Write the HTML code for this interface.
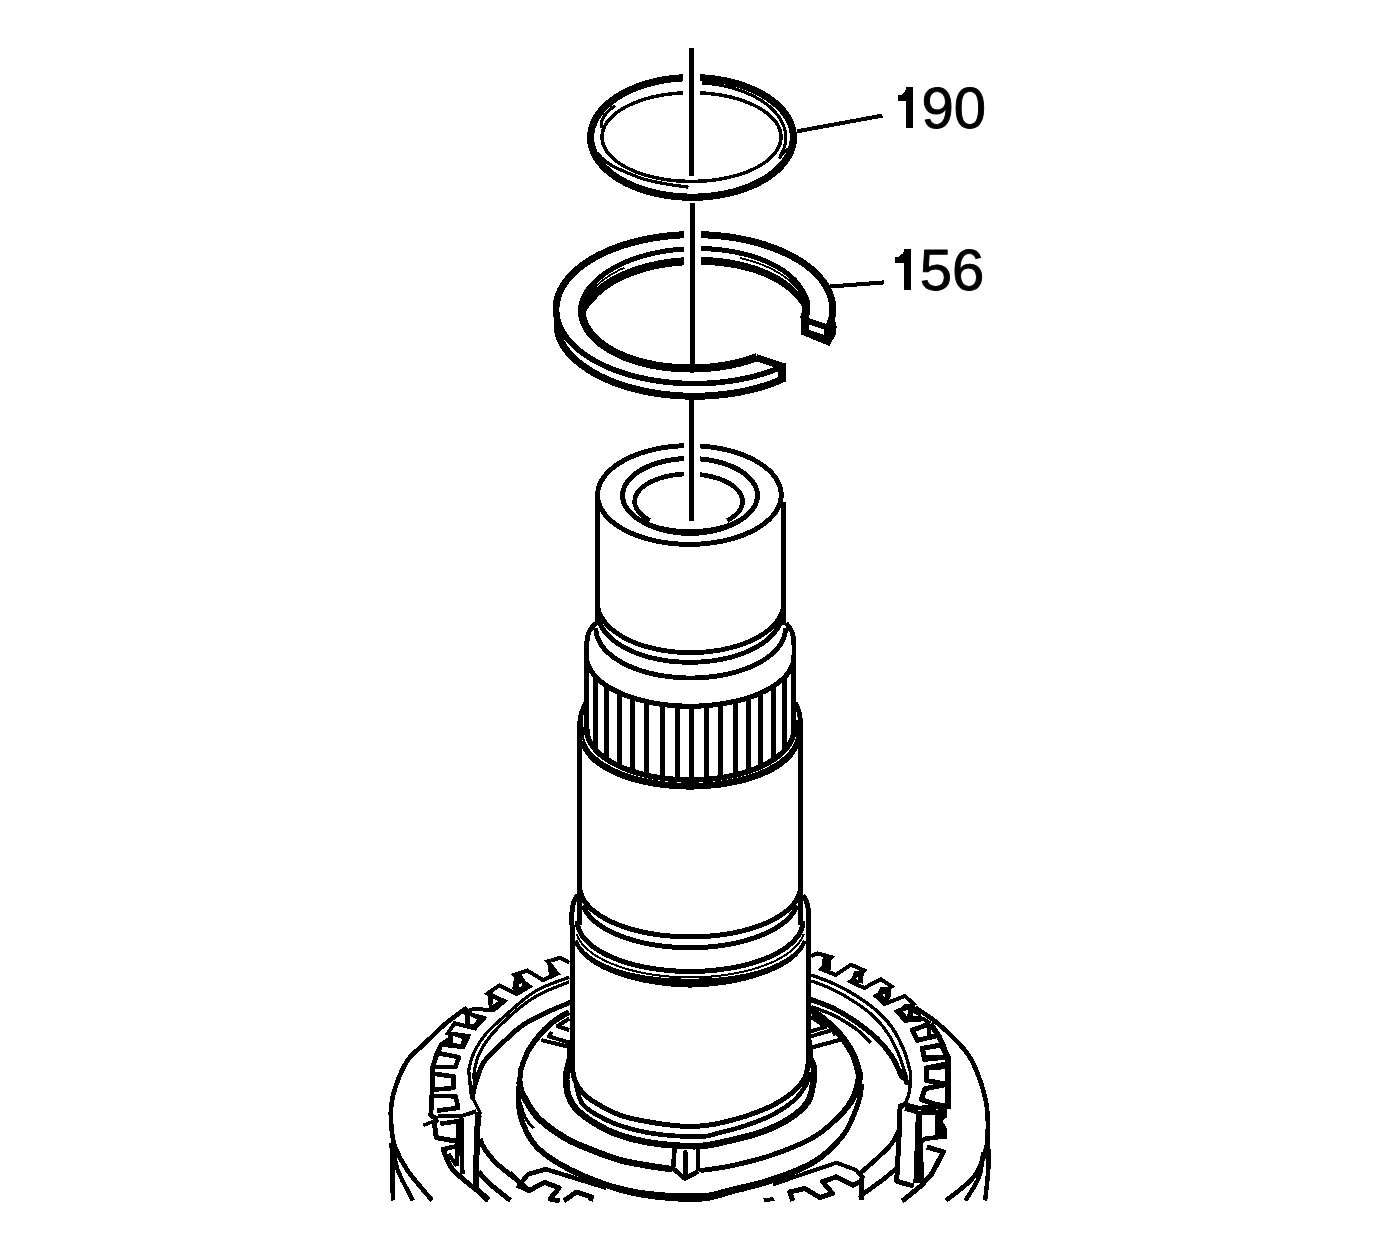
<!DOCTYPE html>
<html><head><meta charset="utf-8"><title>Diagram</title>
<style>
html,body{margin:0;padding:0;background:#fff;}
body{width:1375px;height:1239px;overflow:hidden;font-family:"Liberation Sans",sans-serif;}
svg{display:block;}
svg *{vector-effect:none}
.lbl{font-family:"Liberation Sans",sans-serif;font-size:58px;fill:#000;stroke:#000;stroke-width:0.9px;stroke-linejoin:round;}
</style></head><body>
<svg width="1375" height="1239" viewBox="0 0 1375 1239" fill="none" stroke="#000" stroke-linecap="butt" stroke-linejoin="miter" shape-rendering="crispEdges">
<rect x="0" y="0" width="1375" height="1239" fill="#fff" stroke="none"/>
<path d="M700.0,77.8 L705.1,78.1 L710.2,78.6 L715.3,79.2 L720.3,80.0 L725.2,80.9 L730.1,82.0 L734.8,83.2 L739.4,84.5 L743.9,86.0 L748.3,87.7 L752.5,89.4 L756.6,91.3 L760.5,93.3 L764.2,95.4 L767.7,97.6 L771.1,100.0 L774.2,102.4 L777.1,104.9 L779.8,107.5 L782.3,110.2 L784.5,112.9 L786.5,115.7 L788.3,118.6 L789.8,121.5 L791.0,124.5 L792.0,127.5 L792.7,130.5 L793.2,133.5 L793.4,136.6 L793.3,139.6 L793.0,142.7 L792.4,145.7 L791.6,148.7 L790.5,151.7 L789.1,154.6 L787.5,157.5 L785.6,160.3 L783.5,163.1 L781.2,165.8 L778.6,168.5 L775.8,171.0 L772.8,173.5 L769.6,175.9 L766.2,178.2 L762.5,180.4 L758.7,182.4 L754.8,184.4 L750.6,186.2 L746.3,187.9 L741.9,189.5 L737.3,190.9 L732.7,192.2 L727.9,193.3 L723.0,194.3 L718.0,195.2 L713.0,195.9 L707.9,196.5 L702.8,196.9 L697.7,197.1 L692.5,197.2 L687.3,197.1 L682.2,196.9 L677.1,196.5 L672.0,196.0 L666.9,195.3 L662.0,194.5 L657.1,193.5 L652.3,192.4 L647.6,191.2 L643.0,189.7 L638.5,188.2 L634.2,186.5 L630.0,184.7 L626.0,182.8 L622.2,180.8 L618.5,178.6 L615.1,176.4 L611.8,174.0 L608.7,171.5 L605.9,169.0 L603.3,166.4 L600.9,163.7 L598.7,160.9 L596.8,158.1 L595.2,155.2 L593.8,152.2 L592.6,149.3 L591.7,146.3 L591.1,143.2 L590.7,140.2 L590.6,137.2 L590.8,134.1 L591.2,131.1 L591.8,128.1 L592.8,125.1 L594.0,122.1 L595.4,119.2 L597.1,116.3 L599.1,113.5 L601.3,110.7 L603.7,108.0 L606.3,105.4 L609.2,102.9 L612.3,100.4 L615.6,98.1 L619.1,95.8 L622.8,93.7 L626.6,91.7 L630.7,89.8 L634.9,88.0 L639.2,86.3 L643.7,84.8 L648.3,83.4 L653.0,82.2 L657.8,81.1 L662.7,80.1 L667.7,79.3 L672.8,78.7 L677.9,78.2 L683.0,77.8" stroke-width="7.2" />
<path d="M700.0,92.8 L704.5,93.1 L709.0,93.5 L713.4,94.0 L717.8,94.6 L722.1,95.3 L726.3,96.1 L730.5,97.0 L734.5,98.1 L738.4,99.2 L742.2,100.4 L745.9,101.8 L749.5,103.2 L752.8,104.7 L756.1,106.3 L759.1,107.9 L762.0,109.7 L764.7,111.5 L767.2,113.3 L769.6,115.3 L771.7,117.3 L773.6,119.3 L775.3,121.4 L776.8,123.5 L778.1,125.7 L779.1,127.9 L779.9,130.1 L780.5,132.4 L780.9,134.6 L781.0,136.9 L780.9,139.1 L780.6,141.4 L780.0,143.6 L779.2,145.8 L778.2,148.0 L777.0,150.2 L775.5,152.3 L773.8,154.4 L771.9,156.5 L769.8,158.5 L767.6,160.4 L765.1,162.3 L762.4,164.1 L759.5,165.9 L756.5,167.5 L753.3,169.1 L749.9,170.6 L746.4,172.1 L742.7,173.4 L738.9,174.7 L735.0,175.8 L731.0,176.8 L726.9,177.8 L722.6,178.6 L718.3,179.4 L714.0,180.0 L709.6,180.5 L705.1,180.9 L700.6,181.2 L696.0,181.3 L691.5,181.4 L687.0,181.3 L682.4,181.2 L677.9,180.9 L673.4,180.5 L669.0,180.0 L664.7,179.4 L660.4,178.6 L656.1,177.8 L652.0,176.8 L648.0,175.8 L644.1,174.7 L640.3,173.4 L636.6,172.1 L633.1,170.6 L629.7,169.1 L626.5,167.5 L623.5,165.9 L620.6,164.1 L617.9,162.3 L615.4,160.4 L613.2,158.5 L611.1,156.5 L609.2,154.4 L607.5,152.3 L606.0,150.2 L604.8,148.0 L603.8,145.8 L603.0,143.6 L602.4,141.4 L602.1,139.1 L602.0,136.9 L602.1,134.6 L602.5,132.4 L603.1,130.1 L603.9,127.9 L604.9,125.7 L606.2,123.5 L607.7,121.4 L609.4,119.3 L611.3,117.3 L613.4,115.3 L615.8,113.3 L618.3,111.5 L621.0,109.7 L623.9,107.9 L626.9,106.3 L630.2,104.7 L633.5,103.2 L637.1,101.8 L640.8,100.4 L644.6,99.2 L648.5,98.1 L652.5,97.0 L656.7,96.1 L660.9,95.3 L665.2,94.6 L669.6,94.0 L674.0,93.5 L678.5,93.1 L683.0,92.8" stroke-width="3.5" />
<path d="M701.8,83.0 L706.0,83.3 L710.2,83.7 L714.4,84.3 L718.5,84.9 L722.5,85.7 L726.5,86.5 L730.5,87.5 L734.3,88.6 L738.0,89.8 L741.7,91.0 L745.3,92.4 L748.7,93.9 L752.0,95.4 L755.2,97.0 L758.3,98.8 L761.3,100.5 L764.1,102.4 L766.7,104.4 L769.2,106.4 L771.5,108.5 L773.7,110.6 L775.7,112.8 L777.6,115.0 L779.2,117.3 L780.7,119.7 L782.0,122.0 L783.1,124.4 L784.0,126.9 L784.7,129.3 L785.3,131.8 L785.6,134.3 L785.8,136.7 L785.8,139.2 L785.5,141.7 L785.1,144.2 L784.5,146.6 L783.7,149.1 L782.7,151.5 L781.5,153.9 L780.1,156.2" stroke-width="3.1" />
<path d="M597.0,153.2 C598.2,154.3 601.2,157.8 604.0,160.0 C606.8,162.2 607.8,163.6 613.9,166.6 C620.0,169.6 632.0,175.1 640.5,178.0 C649.0,180.9 657.0,182.3 665.0,183.8 C673.0,185.3 684.5,186.6 688.4,187.2" stroke-width="3.2" />
<path d="M601.2,128.0 C601.3,126.8 600.8,123.1 601.8,120.5 C602.8,117.9 604.8,115.0 607.0,112.5 C609.2,110.0 613.8,106.6 615.1,105.4" stroke-width="3.1" />
<line x1="779" y1="158.5" x2="787.5" y2="148.5" stroke-width="2.6" />
<line x1="691.5" y1="48" x2="691.5" y2="175.6" stroke-width="4.8" />
<line x1="692.3" y1="203.1" x2="692.3" y2="364" stroke-width="4.9" />
<line x1="691.5" y1="400" x2="691.5" y2="520.5" stroke-width="4.8" />
<line x1="797" y1="131.3" x2="882.4" y2="115.6" stroke-width="4" />
<path d="M897.5,95.2 L900.8,95.2 L905.0,91.3 L906.6,86.9 L913.2,86.9 L913.2,128.2 L905.9,128.2 L905.9,100.9 L897.5,100.9 Z" fill="#000" stroke="none"/>
<text class="lbl" x="921.6" y="127.7">90</text>
<line x1="829.3" y1="286.6" x2="883.8" y2="282.4" stroke-width="4" />
<path d="M895.4,257.1 L898.7,257.1 L902.9,253.2 L904.5,248.8 L911.1,248.8 L911.1,290.1 L903.8,290.1 L903.8,262.8 L895.4,262.8 Z" fill="#000" stroke="none"/>
<text class="lbl" x="919.8" y="289.6">56</text>
<path d="M783.0,363.3 L779.6,364.8 L776.3,366.2 L772.8,367.5 L769.3,368.8 L765.6,370.0 L761.9,371.2 L758.2,372.3 L754.4,373.4 L750.5,374.3 L746.5,375.2 L742.5,376.1 L738.5,376.9 L734.4,377.6 L730.3,378.2 L726.1,378.8 L721.9,379.3 L717.7,379.7 L713.4,380.1 L709.2,380.4 L704.9,380.6 L700.6,380.7 L696.3,380.8 L692.0,380.8 L687.7,380.7 L683.4,380.6 L679.1,380.3 L674.9,380.0 L670.6,379.7 L666.4,379.2 L662.2,378.7 L658.1,378.2 L653.9,377.5 L649.8,376.8 L645.8,376.0 L641.8,375.1 L637.9,374.2 L634.0,373.2 L630.2,372.2 L626.4,371.1 L622.8,369.9 L619.1,368.7 L615.6,367.4 L612.2,366.0 L608.8,364.6 L605.5,363.1 L602.3,361.6 L599.2,360.0 L596.2,358.4 L593.3,356.7 L590.5,355.0 L587.8,353.3 L585.2,351.5 L582.7,349.6 L580.4,347.7 L578.1,345.8 L576.0,343.9 L574.0,341.9 L572.1,339.8 L570.4,337.8 L568.8,335.7 L567.3,333.6 L565.9,331.5 L564.7,329.4 L563.6,327.2 L562.6,325.1 L561.8,322.9 L561.1,320.8 L560.5,318.6 L560.0,316.5 L559.7,314.3 L559.5,312.2 L559.4,310.0 L559.4,307.9 L559.6,305.8 L559.9,303.6 L560.3,301.5 L560.8,299.4 L561.4,297.2 L562.2,295.1 L563.1,293.0 L564.1,290.9 L565.2,288.8 L566.5,286.7 L567.9,284.7 L569.4,282.6 L571.0,280.6 L572.8,278.6 L574.7,276.6 L576.7,274.6 L578.8,272.7 L581.1,270.8 L583.4,268.9 L585.9,267.1 L588.5,265.3 L591.2,263.6 L594.0,261.9 L596.9,260.2 L599.9,258.6 L603.0,257.1 L606.2,255.5 L609.4,254.1 L612.8,252.7 L616.3,251.3 L619.8,250.1 L623.4,248.8 L627.1,247.7 L630.8,246.6 L634.6,245.5 L638.5,244.5 L642.4,243.6 L646.4,242.8 L650.4,242.0 L654.5,241.3 L658.6,240.7 L662.8,240.1 L667.0,239.6 L671.2,239.2 L675.4,238.8 L679.7,238.5 L684.0,238.3 L683.6,231.3 L679.3,231.5 L674.9,231.8 L670.5,232.2 L666.2,232.6 L661.9,233.2 L657.6,233.7 L653.4,234.4 L649.2,235.1 L645.0,235.9 L640.9,236.8 L636.9,237.7 L632.9,238.8 L628.9,239.8 L625.0,241.0 L621.2,242.2 L617.5,243.5 L613.8,244.8 L610.2,246.2 L606.7,247.7 L603.3,249.2 L599.9,250.8 L596.7,252.4 L593.5,254.1 L590.4,255.8 L587.5,257.6 L584.6,259.5 L581.8,261.4 L579.2,263.4 L576.7,265.4 L574.2,267.4 L571.9,269.5 L569.7,271.7 L567.6,273.8 L565.7,276.1 L563.9,278.3 L562.2,280.6 L560.6,283.0 L559.2,285.3 L557.9,287.7 L556.7,290.1 L555.7,292.6 L554.8,295.1 L554.0,297.6 L553.4,300.1 L553.0,302.6 L552.7,305.1 L552.6,307.7 L552.6,310.2 L552.8,312.8 L553.1,315.3 L553.6,317.8 L554.2,320.3 L555.0,322.8 L555.9,325.2 L556.9,327.6 L558.1,330.0 L559.4,332.4 L560.8,334.7 L562.4,337.0 L564.1,339.3 L565.9,341.5 L567.9,343.7 L569.9,345.8 L572.1,347.9 L574.4,350.0 L576.8,352.1 L579.3,354.0 L581.9,356.0 L584.7,357.9 L587.5,359.7 L590.4,361.5 L593.5,363.3 L596.6,365.0 L599.8,366.6 L603.2,368.2 L606.6,369.7 L610.1,371.2 L613.6,372.6 L617.3,373.9 L621.0,375.2 L624.8,376.4 L628.6,377.6 L632.6,378.7 L636.6,379.7 L640.6,380.6 L644.7,381.5 L648.8,382.3 L653.0,383.0 L657.2,383.7 L661.5,384.3 L665.8,384.8 L670.1,385.3 L674.4,385.6 L678.8,385.9 L683.2,386.2 L687.6,386.3 L692.0,386.4 L696.4,386.4 L700.7,386.3 L705.1,386.2 L709.5,386.0 L713.9,385.7 L718.2,385.3 L722.5,384.9 L726.8,384.3 L731.1,383.8 L735.3,383.1 L739.5,382.4 L743.6,381.6 L747.7,380.7 L751.8,379.8 L755.8,378.8 L759.7,377.7 L763.6,376.6 L767.4,375.3 L771.1,374.1 L774.8,372.7 L778.4,371.4 L781.9,369.9 L785.2,368.4 Z" fill="#000" stroke="none"/>
<path d="M700.9,238.2 L705.2,238.3 L709.5,238.6 L713.8,238.8 L718.1,239.2 L722.4,239.7 L726.6,240.2 L730.8,240.8 L734.9,241.4 L739.0,242.1 L743.1,242.9 L747.1,243.8 L751.1,244.7 L755.0,245.7 L758.8,246.8 L762.6,247.9 L766.3,249.1 L769.9,250.4 L773.4,251.7 L776.9,253.1 L780.3,254.5 L783.5,256.0 L786.7,257.5 L789.8,259.1 L792.8,260.7 L795.7,262.4 L798.5,264.1 L801.2,265.9 L803.8,267.7 L806.2,269.6 L808.6,271.5 L810.8,273.4 L812.9,275.4 L814.9,277.4 L816.7,279.4 L818.5,281.4 L820.1,283.5 L821.5,285.6 L822.9,287.7 L824.1,289.8 L825.2,291.9 L826.2,294.0 L827.0,296.2 L827.7,298.3 L828.3,300.5 L828.7,302.6 L829.0,304.8 L829.2,306.9 L829.3,309.1 L829.2,311.2 L829.0,313.4 L828.7,315.5 L828.3,317.7 L827.7,319.8 L827.0,322.0 L826.2,324.2 L832.7,326.7 L833.6,324.3 L834.4,321.8 L835.1,319.3 L835.6,316.8 L836.0,314.2 L836.2,311.6 L836.3,309.1 L836.2,306.5 L836.0,303.9 L835.6,301.4 L835.1,298.8 L834.4,296.3 L833.6,293.8 L832.6,291.3 L831.5,288.8 L830.3,286.4 L828.9,284.0 L827.3,281.6 L825.7,279.3 L823.9,277.0 L822.0,274.7 L819.9,272.5 L817.8,270.3 L815.5,268.2 L813.1,266.1 L810.5,264.1 L807.9,262.1 L805.2,260.1 L802.3,258.3 L799.3,256.4 L796.3,254.6 L793.1,252.9 L789.9,251.2 L786.5,249.6 L783.1,248.1 L779.5,246.6 L775.9,245.1 L772.2,243.8 L768.5,242.5 L764.6,241.2 L760.7,240.1 L756.8,239.0 L752.7,237.9 L748.6,237.0 L744.5,236.1 L740.3,235.3 L736.1,234.5 L731.8,233.8 L727.5,233.2 L723.1,232.7 L718.8,232.2 L714.4,231.9 L710.0,231.6 L705.5,231.3 L701.1,231.2 Z" fill="#000" stroke="none"/>
<path d="M782.7,375.2 L779.4,376.7 L776.0,378.1 L772.5,379.5 L769.0,380.7 L765.4,382.0 L761.7,383.1 L758.0,384.2 L754.1,385.3 L750.3,386.3 L746.3,387.2 L742.3,388.0 L738.3,388.8 L734.2,389.5 L730.1,390.1 L725.9,390.7 L721.7,391.2 L717.5,391.6 L713.3,392.0 L709.0,392.3 L704.7,392.5 L700.5,392.6 L696.2,392.7 L691.9,392.7 L687.6,392.6 L683.3,392.5 L679.0,392.2 L674.8,391.9 L670.5,391.6 L666.3,391.1 L662.1,390.6 L658.0,390.0 L653.9,389.4 L649.8,388.7 L645.8,387.9 L641.8,387.0 L637.8,386.1 L634.0,385.1 L630.2,384.1 L626.4,382.9 L622.8,381.8 L619.2,380.5 L615.6,379.2 L612.2,377.9 L608.8,376.5 L605.6,375.0 L602.4,373.5 L599.3,371.9 L596.3,370.3 L593.5,368.6 L590.7,366.9 L588.0,365.1 L585.4,363.3 L583.0,361.5 L580.6,359.6 L578.4,357.7 L576.3,355.8 L574.3,353.8 L572.4,351.8 L570.7,349.8 L569.1,347.8 L567.6,345.7 L566.2,343.6 L565.0,341.6 L563.9,339.5 L562.7,337.4 L561.7,335.3 L560.9,333.2 L560.1,331.1 L559.5,329.0 L559.0,326.8 L558.6,324.6 L558.3,322.4 L558.2,320.2 L558.2,317.9 L554.2,317.7 L553.9,320.1 L553.7,322.5 L553.7,325.0 L553.8,327.5 L554.1,330.0 L554.5,332.5 L555.0,335.1 L555.7,337.6 L556.6,340.1 L557.6,342.6 L558.9,345.0 L560.3,347.4 L561.8,349.7 L563.5,352.0 L565.3,354.3 L567.2,356.5 L569.3,358.7 L571.5,360.9 L573.8,363.0 L576.2,365.0 L578.7,367.0 L581.3,369.0 L584.1,370.9 L586.9,372.8 L589.9,374.6 L592.9,376.4 L596.1,378.1 L599.3,379.7 L602.6,381.3 L606.1,382.9 L609.6,384.3 L613.2,385.8 L616.8,387.1 L620.6,388.4 L624.4,389.6 L628.2,390.8 L632.2,391.9 L636.2,392.9 L640.2,393.8 L644.3,394.7 L648.5,395.5 L652.7,396.3 L656.9,397.0 L661.2,397.6 L665.5,398.1 L669.9,398.5 L674.2,398.9 L678.6,399.2 L683.0,399.4 L687.4,399.6 L691.8,399.7 L696.2,399.7 L700.6,399.6 L705.0,399.5 L709.4,399.3 L713.8,399.0 L718.2,398.6 L722.5,398.2 L726.8,397.7 L731.1,397.1 L735.4,396.4 L739.6,395.7 L743.7,394.9 L747.8,394.0 L751.9,393.1 L755.9,392.1 L759.9,391.0 L763.8,389.8 L767.6,388.6 L771.3,387.3 L775.0,386.0 L778.6,384.6 L782.1,383.1 L785.5,381.6 Z" fill="#000" stroke="none"/>
<path d="M830.5,316.7 L830.4,319.1 L830.2,321.5 L829.8,323.8 L829.3,326.0 L828.7,328.3 L828.2,330.5 L827.6,332.8 L826.8,335.0 L825.9,337.3 L824.9,339.5 L823.7,341.8 L829.8,345.1 L831.2,342.7 L832.4,340.1 L833.4,337.5 L834.3,334.8 L835.0,332.2 L835.6,329.5 L835.8,326.8 L835.7,324.1 L835.4,321.4 L835.0,318.8 L834.5,316.3 Z" fill="#000" stroke="none"/>
<path d="M755.6,353.2 L752.7,354.3 L749.8,355.3 L746.8,356.3 L743.8,357.2 L740.7,358.0 L737.5,358.8 L734.3,359.6 L731.1,360.3 L727.8,361.0 L724.5,361.5 L721.2,362.1 L717.8,362.6 L714.5,363.0 L711.0,363.4 L707.6,363.7 L704.2,363.9 L700.7,364.1 L697.3,364.3 L693.8,364.4 L690.4,364.4 L686.9,364.4 L683.4,364.3 L680.0,364.1 L676.6,363.9 L673.2,363.7 L669.8,363.3 L666.4,363.0 L663.1,362.5 L659.8,362.0 L656.5,361.5 L653.3,360.9 L650.1,360.2 L647.0,359.5 L643.9,358.8 L640.9,358.0 L637.9,357.1 L635.0,356.2 L632.1,355.2 L629.3,354.2 L626.6,353.2 L623.9,352.1 L621.3,350.9 L618.8,349.8 L616.4,348.5 L614.0,347.3 L611.7,346.0 L609.5,344.6 L607.4,343.3 L605.4,341.9 L603.5,340.4 L601.7,339.0 L600.0,337.5 L598.3,336.0 L596.8,334.5 L595.3,332.9 L594.0,331.4 L592.8,329.8 L591.6,328.2 L590.6,326.6 L589.7,325.0 L588.8,323.3 L588.1,321.7 L587.5,320.1 L586.9,318.4 L586.5,316.8 L586.1,315.1 L585.9,313.5 L585.8,311.8 L585.7,310.2 L585.7,308.5 L585.8,306.9 L585.9,305.2 L586.2,303.5 L586.6,301.8 L587.1,300.1 L587.7,298.4 L588.4,296.7 L589.2,294.9 L590.1,293.2 L591.1,291.5 L592.2,289.8 L593.4,288.1 L594.8,286.4 L596.2,284.7 L597.7,283.0 L599.4,281.4 L601.1,279.8 L603.0,278.2 L604.9,276.6 L607.0,275.1 L609.1,273.7 L611.4,272.3 L613.7,270.9 L616.1,269.5 L618.6,268.2 L621.2,266.9 L623.8,265.7 L626.5,264.5 L629.3,263.3 L632.1,262.2 L635.0,261.2 L638.0,260.1 L641.0,259.2 L644.1,258.3 L647.2,257.4 L650.4,256.6 L653.6,255.8 L656.9,255.1 L660.2,254.5 L663.5,253.9 L666.9,253.4 L670.2,252.9 L673.7,252.4 L677.1,252.1 L680.5,251.8 L684.0,251.5 L683.7,246.5 L680.1,246.8 L676.6,247.1 L673.1,247.5 L669.6,247.9 L666.1,248.4 L662.7,249.0 L659.2,249.6 L655.9,250.2 L652.5,251.0 L649.2,251.7 L645.9,252.6 L642.7,253.5 L639.5,254.4 L636.4,255.4 L633.4,256.4 L630.4,257.5 L627.4,258.7 L624.5,259.9 L621.7,261.1 L619.0,262.4 L616.3,263.7 L613.7,265.1 L611.2,266.5 L608.8,268.0 L606.4,269.5 L604.1,271.0 L601.9,272.6 L599.8,274.2 L597.8,275.8 L595.8,277.5 L593.9,279.2 L592.2,280.9 L590.5,282.6 L588.9,284.4 L587.4,286.2 L586.0,288.1 L584.7,289.9 L583.5,291.9 L582.5,293.8 L581.5,295.8 L580.6,297.8 L579.9,299.8 L579.3,301.8 L578.8,303.9 L578.4,306.0 L578.1,308.1 L578.0,310.2 L578.0,312.3 L578.1,314.4 L578.4,316.5 L578.9,318.6 L579.4,320.6 L580.1,322.7 L580.8,324.7 L581.7,326.7 L582.8,328.7 L583.9,330.7 L585.1,332.6 L586.5,334.5 L587.9,336.3 L589.5,338.2 L591.1,339.9 L592.9,341.7 L594.7,343.4 L596.6,345.1 L598.7,346.7 L600.8,348.3 L603.0,349.8 L605.3,351.3 L607.7,352.8 L610.2,354.2 L612.7,355.6 L615.3,356.9 L618.0,358.2 L620.8,359.4 L623.6,360.6 L626.5,361.7 L629.5,362.8 L632.5,363.8 L635.6,364.8 L638.7,365.7 L641.9,366.5 L645.2,367.3 L648.4,368.1 L651.8,368.8 L655.1,369.4 L658.6,370.0 L662.0,370.5 L665.5,370.9 L669.0,371.3 L672.5,371.7 L676.0,372.0 L679.6,372.2 L683.2,372.3 L686.7,372.4 L690.3,372.5 L693.9,372.5 L697.5,372.4 L701.1,372.2 L704.7,372.0 L708.3,371.8 L711.8,371.4 L715.4,371.1 L718.9,370.6 L722.4,370.1 L725.9,369.6 L729.3,369.0 L732.8,368.3 L736.1,367.6 L739.5,366.8 L742.8,365.9 L746.0,365.0 L749.2,364.1 L752.4,363.1 L755.5,362.0 L758.4,360.9 Z" fill="#000" stroke="none"/>
<path d="M701.0,251.1 L704.5,251.2 L708.0,251.3 L711.5,251.5 L715.0,251.8 L718.4,252.1 L721.8,252.5 L725.2,253.0 L728.6,253.5 L731.9,254.0 L735.2,254.6 L738.5,255.3 L741.7,256.0 L744.8,256.8 L747.9,257.6 L750.9,258.5 L753.9,259.5 L756.8,260.4 L759.7,261.5 L762.5,262.6 L765.2,263.7 L767.8,264.9 L770.4,266.1 L772.9,267.3 L775.3,268.7 L777.6,270.0 L779.8,271.4 L782.0,272.8 L784.0,274.2 L786.0,275.7 L787.8,277.2 L789.6,278.8 L791.3,280.3 L792.8,281.9 L794.3,283.6 L795.7,285.2 L796.9,286.8 L798.1,288.5 L799.1,290.2 L799.9,292.0 L800.5,293.8 L801.1,295.6 L801.5,297.3 L801.8,299.1 L802.1,300.8 L802.2,302.5 L802.3,304.2 L802.3,305.8 L802.3,307.5 L802.2,309.2 L802.0,310.8 L801.6,312.5 L801.2,314.1 L800.7,315.8 L800.1,317.6 L808.0,320.4 L808.6,318.4 L809.3,316.3 L809.7,314.2 L810.1,312.0 L810.3,309.9 L810.4,307.7 L810.4,305.6 L810.2,303.4 L809.9,301.3 L809.3,299.3 L808.6,297.2 L807.8,295.2 L806.9,293.3 L805.9,291.3 L804.7,289.5 L803.5,287.6 L802.3,285.8 L801.0,283.9 L799.6,282.1 L798.1,280.3 L796.5,278.5 L794.8,276.8 L793.0,275.1 L791.1,273.4 L789.1,271.8 L787.0,270.2 L784.8,268.7 L782.5,267.2 L780.2,265.7 L777.7,264.3 L775.2,262.9 L772.6,261.6 L769.9,260.3 L767.2,259.1 L764.3,257.9 L761.4,256.8 L758.5,255.7 L755.5,254.7 L752.4,253.7 L749.2,252.8 L746.0,252.0 L742.8,251.2 L739.5,250.4 L736.2,249.7 L732.8,249.1 L729.4,248.5 L725.9,248.0 L722.4,247.6 L718.9,247.2 L715.4,246.8 L711.8,246.5 L708.3,246.3 L704.7,246.2 L701.1,246.1 Z" fill="#000" stroke="none"/>
<path d="M583.8,317.4 L584.4,315.6 L585.1,313.9 L585.9,312.2 L586.8,310.5 L587.7,308.9 L588.8,307.3 L590.0,305.7 L591.3,304.2 L592.6,302.6 L594.1,301.1 L595.5,299.6 L597.0,298.0 L598.5,296.4 L600.2,294.8 L601.9,293.3 L603.7,291.8 L605.7,290.3 L607.7,288.8 L609.8,287.3 L612.0,285.9 L614.3,284.5 L616.7,283.2 L619.1,281.9 L621.7,280.6 L624.3,279.4 L626.9,278.2 L629.7,277.1 L632.5,276.0 L635.4,274.9 L638.3,273.9 L641.3,273.0 L644.4,272.0 L647.5,271.2 L650.6,270.4 L653.8,269.6 L657.1,268.9 L660.4,268.3 L663.7,267.7 L667.0,267.1 L670.4,266.7 L673.8,266.2 L677.2,265.9 L680.7,265.6 L684.1,265.3 L683.6,257.3 L680.0,257.6 L676.4,257.9 L672.9,258.3 L669.3,258.7 L665.8,259.2 L662.3,259.8 L658.9,260.4 L655.5,261.1 L652.1,261.8 L648.7,262.6 L645.4,263.5 L642.2,264.4 L639.0,265.3 L635.8,266.3 L632.7,267.4 L629.7,268.5 L626.7,269.7 L623.8,270.9 L620.9,272.1 L618.2,273.4 L615.5,274.8 L612.8,276.2 L610.3,277.6 L607.8,279.1 L605.4,280.7 L603.1,282.2 L600.9,283.9 L598.7,285.5 L596.7,287.2 L594.7,288.9 L592.9,290.7 L591.1,292.5 L589.5,294.3 L588.0,296.3 L586.7,298.3 L585.6,300.4 L584.6,302.4 L583.7,304.5 L582.9,306.6 L582.2,308.6 L581.7,310.7 L581.3,312.8 L581.0,314.8 L580.8,316.8 Z" fill="#000" stroke="none"/>
<path d="M700.9,264.8 L704.5,264.9 L707.9,265.0 L711.4,265.2 L714.8,265.5 L718.3,265.8 L721.6,266.1 L725.0,266.6 L728.4,267.0 L731.7,267.6 L734.9,268.2 L738.1,268.8 L741.3,269.5 L744.4,270.3 L747.5,271.1 L750.5,271.9 L753.5,272.8 L756.4,273.8 L759.2,274.8 L762.0,275.8 L764.7,276.9 L767.3,278.1 L769.9,279.3 L772.3,280.5 L774.7,281.8 L777.0,283.1 L779.2,284.4 L781.4,285.8 L783.4,287.2 L785.4,288.7 L787.2,290.1 L789.0,291.6 L790.6,293.2 L792.2,294.7 L793.7,296.2 L795.2,297.7 L796.6,299.2 L797.9,300.8 L799.2,302.4 L800.3,304.0 L801.3,305.6 L802.2,307.3 L803.1,309.0 L803.7,310.7 L804.2,312.5 L804.5,314.4 L807.5,313.8 L807.1,311.9 L806.6,309.9 L806.2,307.9 L805.7,305.9 L805.0,303.9 L804.2,301.9 L803.3,299.9 L802.3,297.9 L801.2,295.9 L799.9,294.0 L798.5,292.0 L797.0,290.2 L795.3,288.4 L793.5,286.7 L791.5,285.0 L789.5,283.3 L787.4,281.7 L785.2,280.1 L782.9,278.6 L780.6,277.1 L778.1,275.7 L775.6,274.3 L773.0,272.9 L770.3,271.6 L767.5,270.4 L764.7,269.2 L761.8,268.0 L758.8,266.9 L755.8,265.9 L752.7,264.9 L749.5,263.9 L746.3,263.1 L743.0,262.2 L739.7,261.5 L736.4,260.8 L733.0,260.1 L729.5,259.5 L726.1,259.0 L722.6,258.5 L719.0,258.1 L715.5,257.7 L711.9,257.4 L708.3,257.2 L704.7,257.0 L701.1,256.9 Z" fill="#000" stroke="none"/>
<path d="M739.9,258.9 L743.1,259.7 L746.3,260.5 L749.4,261.4 L752.5,262.3 L755.5,263.3 L758.4,264.3 L761.3,265.4 L764.1,266.5 L766.8,267.7 L769.4,268.9 L772.0,270.2 L774.5,271.5 L776.9,272.8 L779.2,274.2 L781.4,275.7 L783.6,277.2 L785.6,278.7 L787.6,280.2 L789.5,281.8 L791.2,283.4 L792.9,285.0 L794.4,286.7 L795.9,288.4 L797.2,290.1 L798.5,291.8 L799.6,293.6 L800.7,295.4 L801.6,297.2 L802.4,299.0 L803.1,300.8 L804.8,300.2 L804.0,298.3 L803.2,296.4 L802.2,294.5 L801.2,292.7 L800.0,290.8 L798.7,289.0 L797.3,287.3 L795.8,285.5 L794.2,283.8 L792.5,282.1 L790.6,280.4 L788.7,278.8 L786.7,277.2 L784.6,275.7 L782.4,274.2 L780.2,272.7 L777.8,271.3 L775.3,269.9 L772.8,268.6 L770.2,267.3 L767.5,266.0 L764.7,264.9 L761.9,263.7 L759.0,262.6 L756.0,261.6 L753.0,260.6 L749.9,259.7 L746.8,258.8 L743.6,257.9 L740.3,257.2 Z" fill="#000" stroke="none"/>
<path d="M584.6,305.8 L585.3,303.9 L586.0,302.1 L586.8,300.3 L587.8,298.4 L588.8,296.6 L590.0,294.9 L591.2,293.1 L592.6,291.3 L594.1,289.6 L595.7,287.9 L597.3,286.2 L599.1,284.6 L601.0,282.9 L602.9,281.3 L605.0,279.8 L607.2,278.2 L609.4,276.7 L611.7,275.3 L614.1,273.9 L616.6,272.5 L619.2,271.1 L621.9,269.8 L624.6,268.6 L623.8,267.0 L621.1,268.2 L618.4,269.5 L615.8,270.9 L613.2,272.3 L610.8,273.7 L608.4,275.2 L606.1,276.8 L603.9,278.3 L601.8,279.9 L599.8,281.6 L597.9,283.2 L596.1,284.9 L594.4,286.7 L592.7,288.4 L591.2,290.2 L589.8,292.0 L588.5,293.8 L587.3,295.7 L586.2,297.6 L585.2,299.5 L584.3,301.4 L583.6,303.3 L582.9,305.2 Z" fill="#000" stroke="none"/>
<path d="M800.8,316.3 L808.9,318.2 L827.3,324.3 L836.8,325.8 L835.7,334.3 L829.6,346.1 L800.8,334.3 Z" fill="#000" stroke="none"/>
<path d="M809.3,324.6 L824.2,329.5 L824.2,335.0 L809.3,329.8 Z" fill="#fff" stroke="none"/>
<line x1="756" y1="357.6" x2="785" y2="367" stroke-width="7" />
<line x1="782" y1="365" x2="782" y2="382" stroke-width="7.6" />
<path d="M687.8,541.9 L685.0,541.8 L682.1,541.7 L679.3,541.6 L676.4,541.4 L673.6,541.2 L670.8,540.9 L668.0,540.5 L665.3,540.1 L662.5,539.7 L659.8,539.2 L657.1,538.7 L654.5,538.1 L651.9,537.5 L649.3,536.9 L646.8,536.2 L644.3,535.4 L641.8,534.6 L639.4,533.8 L637.1,532.9 L634.8,532.0 L632.6,531.1 L630.4,530.1 L628.3,529.1 L626.3,528.1 L624.3,527.0 L622.4,525.9 L620.5,524.7 L618.7,523.6 L617.0,522.4 L615.4,521.1 L613.9,519.9 L612.4,518.6 L611.0,517.3 L609.7,516.0 L608.5,514.7 L607.3,513.4 L606.2,512.0 L605.3,510.7 L604.4,509.3 L603.6,507.9 L602.8,506.5 L602.2,505.1 L601.6,503.7 L601.2,502.3 L600.8,500.9 L600.5,499.5 L600.2,498.0 L600.1,496.6 L600.1,495.2 L600.1,493.8 L600.2,492.4 L600.4,491.0 L600.7,489.6 L601.0,488.1 L601.5,486.7 L602.0,485.3 L602.6,483.9 L603.3,482.5 L604.1,481.2 L605.0,479.8 L605.9,478.4 L607.0,477.0 L608.1,475.7 L609.3,474.4 L610.6,473.1 L612.0,471.8 L613.4,470.5 L614.9,469.2 L616.5,468.0 L618.2,466.8 L620.0,465.6 L621.8,464.5 L623.7,463.4 L625.6,462.3 L627.7,461.2 L629.7,460.2 L631.9,459.2 L634.1,458.3 L636.4,457.3 L638.7,456.5 L641.1,455.6 L643.5,454.8 L646.0,454.1 L648.5,453.4 L651.1,452.7 L653.7,452.1 L656.3,451.5 L659.0,450.9 L661.7,450.4 L664.4,450.0 L667.2,449.6 L669.9,449.2 L672.7,448.9 L675.6,448.7 L678.4,448.5 L681.2,448.3 L684.1,448.2 L683.9,443.3 L681.0,443.4 L678.1,443.6 L675.1,443.8 L672.2,444.1 L669.4,444.4 L666.5,444.7 L663.7,445.2 L660.8,445.6 L658.0,446.1 L655.3,446.7 L652.6,447.3 L649.9,447.9 L647.2,448.6 L644.6,449.4 L642.0,450.2 L639.5,451.0 L637.0,451.9 L634.6,452.8 L632.2,453.7 L629.9,454.7 L627.6,455.8 L625.4,456.8 L623.3,458.0 L621.2,459.1 L619.2,460.3 L617.3,461.5 L615.4,462.8 L613.6,464.1 L611.9,465.4 L610.2,466.8 L608.7,468.1 L607.2,469.6 L605.7,471.0 L604.4,472.5 L603.1,474.0 L602.0,475.5 L600.9,477.1 L599.9,478.6 L599.0,480.2 L598.2,481.8 L597.5,483.5 L596.8,485.1 L596.3,486.8 L595.9,488.5 L595.6,490.2 L595.3,491.9 L595.2,493.6 L595.2,495.3 L595.2,497.0 L595.4,498.7 L595.6,500.4 L596.0,502.0 L596.5,503.7 L597.0,505.4 L597.7,507.0 L598.4,508.7 L599.3,510.3 L600.2,511.9 L601.2,513.4 L602.3,515.0 L603.5,516.5 L604.8,518.0 L606.2,519.4 L607.6,520.9 L609.1,522.3 L610.7,523.7 L612.4,525.0 L614.2,526.3 L616.0,527.6 L617.9,528.9 L619.8,530.1 L621.9,531.3 L624.0,532.4 L626.1,533.5 L628.3,534.6 L630.6,535.6 L633.0,536.6 L635.3,537.5 L637.8,538.4 L640.3,539.3 L642.8,540.1 L645.4,540.9 L648.0,541.6 L650.7,542.3 L653.4,542.9 L656.1,543.5 L658.9,544.0 L661.7,544.5 L664.5,545.0 L667.4,545.4 L670.3,545.7 L673.1,546.0 L676.0,546.3 L679.0,546.5 L681.9,546.6 L684.8,546.7 L687.8,546.8 Z" fill="#000" stroke="none"/>
<path d="M699.8,448.4 L702.7,448.6 L705.5,448.9 L708.3,449.2 L711.1,449.5 L713.9,449.9 L716.6,450.4 L719.4,450.8 L722.0,451.4 L724.7,452.0 L727.3,452.6 L729.9,453.2 L732.4,454.0 L734.9,454.7 L737.3,455.5 L739.7,456.3 L742.1,457.2 L744.4,458.1 L746.6,459.1 L748.8,460.1 L750.9,461.1 L752.9,462.1 L754.9,463.2 L756.8,464.3 L758.6,465.5 L760.4,466.7 L762.1,467.9 L763.7,469.1 L765.2,470.3 L766.7,471.6 L768.1,472.9 L769.4,474.2 L770.6,475.6 L771.7,476.9 L772.8,478.3 L773.7,479.6 L774.6,481.0 L775.4,482.4 L776.1,483.8 L776.7,485.2 L777.3,486.6 L777.7,488.1 L778.1,489.5 L778.4,490.9 L778.6,492.3 L778.7,493.7 L778.7,495.1 L778.7,496.6 L778.6,498.0 L778.3,499.4 L778.0,500.8 L777.7,502.2 L777.2,503.6 L776.6,505.1 L776.0,506.5 L775.3,507.9 L774.4,509.2 L773.6,510.6 L772.6,512.0 L771.5,513.4 L770.4,514.7 L769.1,516.0 L767.8,517.3 L766.4,518.6 L764.9,519.9 L763.4,521.2 L761.7,522.4 L760.0,523.6 L758.3,524.7 L756.4,525.9 L754.5,527.0 L752.5,528.1 L750.4,529.1 L748.3,530.1 L746.1,531.1 L743.9,532.1 L741.6,533.0 L739.3,533.8 L736.9,534.7 L734.4,535.4 L731.9,536.2 L729.4,536.9 L726.8,537.6 L724.2,538.2 L721.5,538.7 L718.8,539.3 L716.1,539.7 L713.3,540.2 L710.6,540.6 L707.8,540.9 L705.0,541.2 L702.1,541.4 L699.3,541.6 L696.4,541.8 L693.6,541.8 L690.7,541.9 L687.8,541.9 L687.8,546.8 L690.7,546.8 L693.7,546.7 L696.6,546.6 L699.6,546.5 L702.5,546.3 L705.4,546.1 L708.3,545.8 L711.2,545.4 L714.1,545.0 L716.9,544.6 L719.7,544.1 L722.5,543.5 L725.2,542.9 L727.9,542.3 L730.6,541.6 L733.3,540.9 L735.9,540.1 L738.4,539.3 L740.9,538.5 L743.4,537.6 L745.8,536.6 L748.1,535.6 L750.4,534.6 L752.6,533.5 L754.8,532.4 L756.9,531.3 L758.9,530.1 L760.9,528.9 L762.8,527.6 L764.6,526.3 L766.4,525.0 L768.1,523.7 L769.7,522.3 L771.2,520.9 L772.6,519.4 L774.0,518.0 L775.3,516.5 L776.5,514.9 L777.6,513.4 L778.6,511.8 L779.6,510.2 L780.4,508.6 L781.1,507.0 L781.8,505.3 L782.3,503.7 L782.8,502.0 L783.2,500.3 L783.4,498.6 L783.6,496.9 L783.6,495.2 L783.6,493.5 L783.5,491.8 L783.2,490.1 L782.9,488.4 L782.4,486.7 L781.9,485.0 L781.3,483.4 L780.5,481.7 L779.7,480.1 L778.8,478.5 L777.8,476.9 L776.7,475.4 L775.5,473.8 L774.3,472.3 L772.9,470.9 L771.5,469.4 L770.0,468.0 L768.4,466.6 L766.7,465.2 L765.0,463.9 L763.2,462.6 L761.3,461.4 L759.3,460.1 L757.3,459.0 L755.2,457.8 L753.1,456.7 L750.8,455.6 L748.6,454.6 L746.2,453.6 L743.8,452.6 L741.4,451.7 L738.9,450.9 L736.4,450.0 L733.8,449.2 L731.2,448.5 L728.5,447.8 L725.8,447.2 L723.0,446.6 L720.3,446.0 L717.5,445.5 L714.6,445.1 L711.8,444.7 L708.9,444.3 L706.0,444.0 L703.1,443.7 L700.2,443.5 Z" fill="#000" stroke="none"/>
<path d="M688.9,529.0 L686.8,529.0 L684.7,529.0 L682.7,528.9 L680.6,528.8 L678.5,528.7 L676.5,528.5 L674.5,528.3 L672.5,528.0 L670.5,527.7 L668.5,527.4 L666.6,527.1 L664.6,526.7 L662.7,526.3 L660.8,525.8 L659.0,525.4 L657.2,524.8 L655.4,524.3 L653.6,523.7 L651.9,523.1 L650.3,522.5 L648.6,521.8 L647.0,521.1 L645.5,520.4 L644.0,519.7 L642.5,518.9 L641.1,518.1 L639.8,517.2 L638.5,516.4 L637.3,515.5 L636.1,514.6 L635.0,513.7 L633.9,512.7 L632.9,511.8 L632.0,510.8 L631.1,509.8 L630.3,508.9 L629.5,507.9 L628.8,506.9 L628.2,505.9 L627.6,504.8 L627.1,503.8 L626.6,502.8 L626.2,501.8 L625.9,500.8 L625.6,499.7 L625.4,498.7 L625.2,497.7 L625.1,496.7 L625.1,495.6 L625.1,494.6 L625.2,493.6 L625.3,492.6 L625.5,491.5 L625.8,490.5 L626.1,489.5 L626.5,488.5 L626.9,487.4 L627.4,486.4 L628.0,485.4 L628.6,484.4 L629.3,483.4 L630.1,482.4 L630.9,481.4 L631.7,480.4 L632.7,479.5 L633.7,478.5 L634.7,477.6 L635.8,476.7 L637.0,475.8 L638.2,474.9 L639.5,474.0 L640.8,473.1 L642.2,472.3 L643.6,471.5 L645.1,470.7 L646.6,470.0 L648.1,469.2 L649.7,468.5 L651.4,467.9 L653.1,467.2 L654.8,466.6 L656.6,466.0 L658.4,465.4 L660.2,464.9 L662.1,464.4 L664.0,463.9 L665.9,463.5 L667.9,463.1 L669.8,462.7 L671.8,462.4 L673.9,462.1 L675.9,461.8 L677.9,461.6 L680.0,461.4 L682.0,461.3 L684.1,461.1 L683.9,456.2 L681.7,456.3 L679.6,456.4 L677.4,456.6 L675.3,456.9 L673.2,457.1 L671.1,457.5 L669.0,457.8 L666.9,458.2 L664.9,458.6 L662.9,459.1 L660.9,459.6 L658.9,460.1 L657.0,460.6 L655.1,461.2 L653.2,461.9 L651.4,462.5 L649.6,463.2 L647.8,463.9 L646.1,464.7 L644.4,465.5 L642.8,466.3 L641.2,467.1 L639.6,468.0 L638.1,468.9 L636.7,469.8 L635.3,470.8 L634.0,471.8 L632.7,472.8 L631.4,473.8 L630.3,474.9 L629.1,475.9 L628.1,477.0 L627.1,478.2 L626.1,479.3 L625.3,480.5 L624.4,481.7 L623.7,482.9 L623.0,484.1 L622.4,485.3 L621.9,486.6 L621.4,487.9 L621.0,489.2 L620.7,490.4 L620.4,491.7 L620.2,493.1 L620.1,494.4 L620.1,495.7 L620.1,497.0 L620.3,498.3 L620.5,499.6 L620.7,500.9 L621.1,502.2 L621.5,503.5 L622.0,504.7 L622.6,506.0 L623.2,507.2 L623.9,508.4 L624.7,509.6 L625.5,510.8 L626.4,512.0 L627.3,513.1 L628.4,514.3 L629.4,515.3 L630.6,516.4 L631.8,517.5 L633.0,518.5 L634.3,519.5 L635.7,520.5 L637.1,521.4 L638.5,522.3 L640.0,523.2 L641.6,524.1 L643.2,525.0 L644.8,525.8 L646.5,526.6 L648.2,527.4 L650.0,528.2 L651.8,528.9 L653.6,529.6 L655.5,530.3 L657.4,530.9 L659.3,531.5 L661.3,532.0 L663.3,532.6 L665.3,533.0 L667.4,533.5 L669.4,533.9 L671.5,534.3 L673.6,534.6 L675.8,534.9 L677.9,535.2 L680.1,535.4 L682.2,535.6 L684.4,535.8 L686.6,535.9 L688.8,536.0 Z" fill="#000" stroke="none"/>
<path d="M699.8,461.4 L701.9,461.6 L703.9,461.8 L705.9,462.1 L708.0,462.4 L710.0,462.7 L711.9,463.1 L713.9,463.5 L715.8,463.9 L717.7,464.4 L719.6,464.9 L721.4,465.4 L723.3,465.9 L725.0,466.5 L726.8,467.2 L728.5,467.8 L730.1,468.5 L731.7,469.2 L733.3,469.9 L734.8,470.7 L736.3,471.5 L737.8,472.3 L739.1,473.1 L740.5,473.9 L741.7,474.8 L743.0,475.7 L744.1,476.6 L745.2,477.5 L746.3,478.5 L747.3,479.4 L748.2,480.4 L749.1,481.4 L749.9,482.4 L750.7,483.4 L751.3,484.4 L752.0,485.4 L752.5,486.4 L753.0,487.4 L753.5,488.4 L753.9,489.5 L754.2,490.5 L754.5,491.5 L754.7,492.5 L754.8,493.6 L754.9,494.6 L754.9,495.6 L754.9,496.7 L754.8,497.7 L754.6,498.7 L754.4,499.7 L754.1,500.8 L753.8,501.8 L753.4,502.8 L752.9,503.8 L752.4,504.9 L751.8,505.9 L751.2,506.9 L750.5,507.9 L749.7,508.9 L748.9,509.9 L748.0,510.8 L747.0,511.8 L746.0,512.8 L745.0,513.7 L743.8,514.6 L742.7,515.5 L741.4,516.4 L740.1,517.3 L738.8,518.1 L737.4,518.9 L736.0,519.7 L734.4,520.5 L732.9,521.2 L731.3,521.9 L729.7,522.5 L728.0,523.2 L726.3,523.8 L724.5,524.3 L722.7,524.9 L720.9,525.4 L719.0,525.9 L717.1,526.3 L715.2,526.7 L713.3,527.1 L711.3,527.5 L709.4,527.8 L707.4,528.1 L705.3,528.3 L703.3,528.5 L701.3,528.7 L699.2,528.8 L697.2,528.9 L695.1,529.0 L693.0,529.0 L690.9,529.0 L688.8,529.0 L688.8,536.0 L691.0,536.0 L693.2,535.9 L695.4,535.8 L697.6,535.6 L699.7,535.4 L701.9,535.2 L704.0,534.9 L706.2,534.6 L708.3,534.3 L710.4,533.9 L712.5,533.5 L714.5,533.1 L716.6,532.6 L718.6,532.1 L720.6,531.5 L722.5,530.9 L724.4,530.3 L726.3,529.6 L728.1,528.9 L729.9,528.2 L731.7,527.5 L733.4,526.7 L735.1,525.9 L736.7,525.0 L738.3,524.2 L739.9,523.3 L741.4,522.4 L742.9,521.5 L744.3,520.5 L745.6,519.5 L747.0,518.5 L748.2,517.5 L749.4,516.5 L750.5,515.4 L751.6,514.3 L752.6,513.2 L753.6,512.0 L754.5,510.9 L755.3,509.7 L756.1,508.5 L756.8,507.2 L757.4,506.0 L758.0,504.7 L758.5,503.5 L758.9,502.2 L759.3,500.9 L759.5,499.6 L759.7,498.3 L759.9,497.0 L759.9,495.7 L759.9,494.3 L759.8,493.0 L759.6,491.7 L759.3,490.4 L759.0,489.1 L758.6,487.8 L758.1,486.6 L757.6,485.3 L757.0,484.1 L756.3,482.8 L755.5,481.6 L754.7,480.4 L753.8,479.3 L752.9,478.1 L751.9,477.0 L750.8,475.9 L749.7,474.8 L748.5,473.8 L747.3,472.7 L746.0,471.7 L744.6,470.7 L743.2,469.8 L741.8,468.8 L740.3,467.9 L738.7,467.1 L737.1,466.2 L735.5,465.4 L733.8,464.6 L732.1,463.9 L730.3,463.2 L728.5,462.5 L726.7,461.8 L724.8,461.2 L722.9,460.6 L720.9,460.0 L719.0,459.5 L717.0,459.0 L714.9,458.6 L712.9,458.2 L710.8,457.8 L708.7,457.4 L706.6,457.1 L704.5,456.8 L702.4,456.6 L700.2,456.4 Z" fill="#000" stroke="none"/>
<path d="M650.9,518.4 L649.8,517.7 L648.7,517.1 L647.7,516.5 L646.7,515.8 L645.8,515.2 L644.9,514.5 L644.0,513.8 L643.2,513.1 L642.5,512.4 L641.8,511.7 L641.1,511.0 L640.5,510.3 L640.0,509.5 L639.5,508.8 L639.0,508.1 L638.6,507.4 L638.2,506.6 L637.9,505.9 L637.7,505.2 L637.4,504.4 L637.3,503.7 L637.2,503.0 L637.1,502.3 L637.1,501.5 L637.1,500.8 L637.1,500.1 L637.2,499.4 L637.4,498.6 L637.6,497.9 L637.8,497.2 L638.1,496.5 L638.4,495.7 L638.8,495.0 L639.3,494.3 L639.8,493.5 L640.3,492.8 L640.9,492.1 L641.5,491.4 L642.2,490.7 L642.9,490.0 L643.7,489.3 L644.5,488.6 L645.4,487.9 L646.3,487.2 L647.3,486.6 L648.3,485.9 L649.4,485.3 L650.5,484.7 L651.6,484.1 L652.8,483.5 L654.0,482.9 L655.3,482.4 L656.6,481.9 L657.9,481.4 L659.2,480.9 L660.6,480.4 L662.0,480.0 L663.5,479.6 L665.0,479.2 L666.4,478.8 L668.0,478.5 L669.5,478.2 L671.1,477.9 L672.7,477.6 L674.3,477.4 L675.9,477.1 L677.5,477.0 L679.1,476.8 L680.8,476.6 L682.4,476.5 L684.1,476.4 L683.9,471.8 L682.2,471.8 L680.4,472.0 L678.7,472.1 L677.0,472.3 L675.3,472.5 L673.6,472.7 L671.9,473.0 L670.2,473.2 L668.6,473.6 L667.0,473.9 L665.4,474.3 L663.8,474.6 L662.2,475.1 L660.7,475.5 L659.2,476.0 L657.7,476.5 L656.3,477.0 L654.8,477.5 L653.4,478.1 L652.1,478.7 L650.8,479.3 L649.5,479.9 L648.2,480.5 L647.0,481.2 L645.9,481.9 L644.7,482.6 L643.7,483.4 L642.6,484.1 L641.6,484.9 L640.7,485.7 L639.7,486.5 L638.9,487.3 L638.1,488.2 L637.3,489.1 L636.6,489.9 L635.9,490.8 L635.3,491.8 L634.7,492.7 L634.2,493.6 L633.8,494.6 L633.4,495.6 L633.1,496.6 L632.8,497.6 L632.6,498.6 L632.5,499.6 L632.4,500.6 L632.4,501.6 L632.4,502.6 L632.5,503.6 L632.7,504.6 L632.9,505.6 L633.2,506.6 L633.6,507.6 L634.0,508.6 L634.4,509.5 L635.0,510.5 L635.5,511.4 L636.2,512.3 L636.9,513.2 L637.6,514.1 L638.4,515.0 L639.2,515.8 L640.1,516.6 L641.0,517.4 L642.0,518.2 L643.0,519.0 L644.1,519.7 L645.2,520.5 L646.3,521.2 L647.5,521.8 L648.7,522.5 Z" fill="#000" stroke="none"/>
<path d="M699.7,477.0 L701.4,477.1 L703.0,477.4 L704.6,477.6 L706.2,477.9 L707.7,478.2 L709.3,478.5 L710.8,478.8 L712.3,479.2 L713.7,479.6 L715.2,480.0 L716.6,480.5 L718.0,480.9 L719.4,481.4 L720.7,481.9 L722.0,482.4 L723.2,483.0 L724.4,483.5 L725.6,484.1 L726.7,484.7 L727.8,485.3 L728.9,485.9 L729.9,486.6 L730.9,487.2 L731.8,487.9 L732.7,488.6 L733.5,489.3 L734.3,490.0 L735.0,490.7 L735.7,491.4 L736.3,492.1 L736.9,492.8 L737.4,493.5 L737.9,494.3 L738.4,495.0 L738.8,495.7 L739.1,496.5 L739.4,497.2 L739.6,497.9 L739.8,498.7 L740.0,499.4 L740.1,500.1 L740.1,500.8 L740.1,501.5 L740.1,502.3 L740.0,503.0 L739.9,503.7 L739.7,504.4 L739.5,505.2 L739.3,505.9 L739.0,506.6 L738.6,507.4 L738.2,508.1 L737.7,508.8 L737.2,509.6 L736.7,510.3 L736.1,511.0 L735.4,511.7 L734.7,512.4 L734.0,513.1 L733.2,513.8 L732.3,514.5 L731.4,515.2 L730.5,515.8 L729.5,516.5 L728.5,517.1 L727.4,517.7 L726.3,518.4 L728.5,522.5 L729.7,521.8 L730.9,521.2 L732.0,520.5 L733.1,519.7 L734.2,519.0 L735.2,518.2 L736.2,517.4 L737.1,516.6 L738.0,515.8 L738.8,515.0 L739.6,514.1 L740.3,513.2 L741.0,512.3 L741.7,511.4 L742.2,510.5 L742.8,509.5 L743.2,508.6 L743.6,507.6 L744.0,506.6 L744.3,505.6 L744.5,504.6 L744.7,503.6 L744.8,502.6 L744.8,501.6 L744.8,500.6 L744.7,499.6 L744.6,498.6 L744.4,497.6 L744.1,496.6 L743.8,495.6 L743.4,494.6 L743.0,493.6 L742.5,492.7 L741.9,491.8 L741.3,490.8 L740.6,489.9 L739.9,489.1 L739.1,488.2 L738.3,487.3 L737.5,486.5 L736.6,485.7 L735.6,484.9 L734.6,484.1 L733.6,483.4 L732.5,482.6 L731.4,481.9 L730.2,481.2 L729.0,480.6 L727.7,479.9 L726.4,479.3 L725.1,478.7 L723.8,478.1 L722.4,477.5 L721.0,477.0 L719.5,476.5 L718.0,476.0 L716.5,475.5 L715.0,475.1 L713.4,474.7 L711.9,474.3 L710.3,473.9 L708.6,473.6 L707.0,473.3 L705.3,473.0 L703.7,472.7 L702.0,472.5 L700.3,472.3 Z" fill="#000" stroke="none"/>
<path d="M715.6,526.5 L713.9,527.0 L712.2,527.4 L710.5,527.8 L708.8,528.2 L707.0,528.5 L705.3,528.9 L703.5,529.1 L701.6,529.4 L699.8,529.6 L698.0,529.8 L696.1,529.9 L694.2,530.0 L692.4,530.1 L690.5,530.2 L688.6,530.2 L686.7,530.2 L684.8,530.1 L683.0,530.0 L681.1,529.9 L679.2,529.8 L677.4,529.6 L675.6,529.4 L673.7,529.1 L671.9,528.9 L670.2,528.5 L668.4,528.2 L666.7,527.8 L665.0,527.4 L663.3,527.0 L661.7,526.5 L663.7,529.6 L665.3,529.9 L667.0,530.3 L668.7,530.6 L670.4,530.9 L672.2,531.2 L673.9,531.4 L675.7,531.7 L677.4,531.9 L679.2,532.0 L681.0,532.2 L682.8,532.3 L684.6,532.4 L686.4,532.4 L688.2,532.5 L690.0,532.5 L691.8,532.5 L693.6,532.4 L695.4,532.4 L697.2,532.3 L699.0,532.2 L700.8,532.0 L702.6,531.9 L704.3,531.7 L706.1,531.4 L707.8,531.2 L709.6,530.9 L711.3,530.6 L713.0,530.3 L714.7,529.9 L716.3,529.6 Z" fill="#000" stroke="none"/>
<line x1="597.7" y1="499.5" x2="597.7" y2="625" stroke-width="5" />
<line x1="783.6" y1="501.8" x2="783.6" y2="625" stroke-width="5" />
<path d="M783.6,603.0 L783.5,604.9 L783.3,606.9 L783.0,608.8 L782.5,610.8 L781.8,612.7 L781.0,614.6 L780.1,616.5 L779.0,618.3 L777.9,620.2 L776.5,622.0 L775.1,623.8 L773.5,625.5 L771.7,627.2 L769.9,628.9 L767.9,630.6 L765.8,632.2 L763.6,633.7 L761.3,635.2 L758.9,636.7 L756.4,638.1 L753.7,639.4 L751.0,640.7 L748.2,642.0 L745.3,643.1 L742.3,644.2 L739.2,645.3 L736.0,646.3 L732.8,647.2 L729.5,648.0 L726.2,648.8 L722.8,649.5 L719.3,650.2 L715.8,650.7 L712.3,651.2 L708.7,651.6 L705.1,652.0 L701.5,652.3 L697.9,652.4 L694.3,652.6 L690.6,652.6 L686.9,652.6 L683.3,652.4 L679.7,652.3 L676.1,652.0 L672.5,651.6 L668.9,651.2 L665.4,650.7 L661.9,650.2 L658.4,649.5 L655.0,648.8 L651.7,648.0 L648.4,647.2 L645.2,646.3 L642.0,645.3 L638.9,644.2 L635.9,643.1 L633.0,642.0 L630.2,640.7 L627.5,639.4 L624.8,638.1 L622.3,636.7 L619.9,635.2 L617.6,633.7 L615.4,632.2 L613.3,630.6 L611.3,628.9 L609.5,627.2 L607.7,625.5 L606.1,623.8 L604.7,622.0 L603.3,620.2 L602.2,618.3 L601.1,616.5 L600.2,614.6 L599.4,612.7 L598.7,610.8 L598.2,608.8 L597.9,606.9 L597.7,604.9 L597.6,603.0" stroke-width="4.8" />
<path d="M781.1,619.9 L780.6,621.6 L780.0,623.3 L779.2,625.1 L778.3,626.8 L777.4,628.4 L776.3,630.1 L775.1,631.7 L773.8,633.4 L772.4,635.0 L770.9,636.5 L769.2,638.1 L767.5,639.6 L765.7,641.0 L763.8,642.5 L761.7,643.9 L759.6,645.2 L757.4,646.5 L755.2,647.8 L752.8,649.0 L750.4,650.2 L747.8,651.3 L745.2,652.4 L742.6,653.5 L739.8,654.4 L737.0,655.4 L734.2,656.2 L731.3,657.1 L728.3,657.8 L725.3,658.5 L722.2,659.2 L719.1,659.8 L716.0,660.3 L712.8,660.8 L709.6,661.2 L706.4,661.5 L703.1,661.8 L699.9,662.0 L696.6,662.2 L693.3,662.3 L690.0,662.3 L686.7,662.3 L683.4,662.2 L680.1,662.0 L676.9,661.8 L673.6,661.5 L670.4,661.2 L667.2,660.8 L664.0,660.3 L660.9,659.8 L657.8,659.2 L654.7,658.5 L651.7,657.8 L648.7,657.1 L645.8,656.2 L643.0,655.4 L640.2,654.4 L637.4,653.5 L634.8,652.4 L632.2,651.3 L629.6,650.2 L627.2,649.0 L624.8,647.8 L622.6,646.5 L620.4,645.2 L618.3,643.9 L616.2,642.5 L614.3,641.0 L612.5,639.6 L610.8,638.1 L609.1,636.5 L607.6,635.0 L606.2,633.4 L604.9,631.7 L603.7,630.1 L602.6,628.4 L601.7,626.8 L600.8,625.1 L600.0,623.3 L599.4,621.6 L598.9,619.9" stroke-width="4.8" />
<path d="M785.5,628.4 L785.4,630.3 L785.2,632.3 L784.8,634.2 L784.3,636.2 L783.7,638.1 L782.9,640.0 L781.9,641.9 L780.9,643.7 L779.6,645.6 L778.3,647.4 L776.8,649.2 L775.2,650.9 L773.4,652.6 L771.5,654.3 L769.5,656.0 L767.4,657.6 L765.1,659.1 L762.8,660.6 L760.3,662.1 L757.7,663.5 L755.1,664.8 L752.3,666.1 L749.4,667.4 L746.4,668.5 L743.4,669.6 L740.2,670.7 L737.0,671.7 L733.7,672.6 L730.4,673.4 L727.0,674.2 L723.5,674.9 L720.0,675.6 L716.4,676.1 L712.8,676.6 L709.2,677.0 L705.5,677.4 L701.8,677.7 L698.1,677.8 L694.4,678.0 L690.7,678.0 L687.0,678.0 L683.3,677.8 L679.6,677.7 L675.9,677.4 L672.2,677.0 L668.6,676.6 L665.0,676.1 L661.4,675.6 L657.9,674.9 L654.4,674.2 L651.0,673.4 L647.7,672.6 L644.4,671.7 L641.2,670.7 L638.0,669.6 L635.0,668.5 L632.0,667.4 L629.1,666.1 L626.3,664.8 L623.7,663.5 L621.1,662.1 L618.6,660.6 L616.3,659.1 L614.0,657.6 L611.9,656.0 L609.9,654.3 L608.0,652.6 L606.2,650.9 L604.6,649.2 L603.1,647.4 L601.8,645.6 L600.5,643.7 L599.5,641.9 L598.5,640.0 L597.7,638.1 L597.1,636.2 L596.6,634.2 L596.2,632.3 L596.0,630.3 L595.9,628.4" stroke-width="4.9" />
<path d="M595.6,623.0 C594.5,624.5 590.5,628.7 589.0,632.0 C587.5,635.3 587.2,638.3 586.8,643.0 C586.4,647.7 586.8,657.2 586.8,660.0 L586.8,704" stroke-width="4.9" />
<path d="M786.0,623.0 C787.0,624.5 790.7,628.7 792.0,632.0 C793.3,635.3 793.6,638.3 793.9,643.0 C794.2,647.7 793.9,657.2 793.9,660.0 L793.9,704" stroke-width="4.9" />
<path d="M793.3,661.8 L792.9,663.6 L792.3,665.4 L791.5,667.2 L790.6,668.9 L789.6,670.7 L788.5,672.4 L787.2,674.1 L785.8,675.8 L784.3,677.5 L782.6,679.1 L780.8,680.7 L778.9,682.3 L776.9,683.8 L774.8,685.3 L772.5,686.8 L770.1,688.2 L767.7,689.6 L765.1,690.9 L762.4,692.2 L759.6,693.5 L756.8,694.7 L753.8,695.8 L750.8,696.9 L747.7,697.9 L744.5,698.9 L741.2,699.8 L737.8,700.7 L734.4,701.5 L731.0,702.2 L727.5,702.9 L723.9,703.5 L720.3,704.1 L716.6,704.6 L712.9,705.0 L709.2,705.4 L705.5,705.7 L701.7,705.9 L697.9,706.1 L694.1,706.2 L690.4,706.2 L686.6,706.2 L682.8,706.1 L679.0,705.9 L675.2,705.7 L671.5,705.4 L667.8,705.0 L664.1,704.6 L660.4,704.1 L656.8,703.5 L653.2,702.9 L649.7,702.2 L646.3,701.5 L642.9,700.7 L639.5,699.8 L636.2,698.9 L633.0,697.9 L629.9,696.9 L626.9,695.8 L623.9,694.7 L621.1,693.5 L618.3,692.2 L615.6,690.9 L613.0,689.6 L610.6,688.2 L608.2,686.8 L605.9,685.3 L603.8,683.8 L601.8,682.3 L599.9,680.7 L598.1,679.1 L596.4,677.5 L594.9,675.8 L593.5,674.1 L592.2,672.4 L591.1,670.7 L590.1,668.9 L589.2,667.2 L588.4,665.4 L587.8,663.6 L587.4,661.8" stroke-width="5.1" />
<path d="M793.9,729.5 L793.8,731.5 L793.6,733.5 L793.2,735.4 L792.6,737.4 L791.9,739.4 L791.0,741.3 L790.0,743.2 L788.8,745.1 L787.5,747.0 L786.0,748.8 L784.4,750.6 L782.6,752.4 L780.7,754.2 L778.6,755.9 L776.4,757.6 L774.1,759.2 L771.7,760.8 L769.1,762.3 L766.4,763.8 L763.6,765.2 L760.6,766.6 L757.6,767.9 L754.5,769.2 L751.2,770.4 L747.9,771.5 L744.5,772.6 L740.9,773.6 L737.4,774.5 L733.7,775.4 L730.0,776.2 L726.2,776.9 L722.3,777.5 L718.5,778.1 L714.5,778.6 L710.6,779.0 L706.5,779.4 L702.5,779.6 L698.5,779.8 L694.4,780.0 L690.4,780.0 L686.3,780.0 L682.2,779.8 L678.2,779.6 L674.2,779.4 L670.1,779.0 L666.2,778.6 L662.2,778.1 L658.4,777.5 L654.5,776.9 L650.7,776.2 L647.0,775.4 L643.3,774.5 L639.8,773.6 L636.2,772.6 L632.8,771.5 L629.5,770.4 L626.2,769.2 L623.1,767.9 L620.1,766.6 L617.1,765.2 L614.3,763.8 L611.6,762.3 L609.0,760.8 L606.6,759.2 L604.3,757.6 L602.1,755.9 L600.0,754.2 L598.1,752.4 L596.3,750.6 L594.7,748.8 L593.2,747.0 L591.9,745.1 L590.7,743.2 L589.7,741.3 L588.8,739.4 L588.1,737.4 L587.5,735.4 L587.1,733.5 L586.9,731.5 L586.8,729.5" stroke-width="5.5" />
<line x1="586.8" y1="700" x2="586.8" y2="731" stroke-width="4.9" />
<line x1="793.9" y1="700" x2="793.9" y2="731" stroke-width="4.9" />
<line x1="595.5" y1="676.5004104300809" x2="595.5" y2="749.7615065870783" stroke-width="4.7" />
<line x1="606.8" y1="685.9010689797001" x2="606.8" y2="759.3327416023155" stroke-width="4.7" />
<line x1="619.6" y1="692.8173932459489" x2="619.6" y2="766.3745636879116" stroke-width="4.7" />
<line x1="632.6" y1="697.770059623801" x2="632.6" y2="771.4170969960071" stroke-width="4.7" />
<line x1="646.5" y1="701.5332136381063" x2="646.5" y2="775.2485340468622" stroke-width="4.7" />
<line x1="662.7" y1="704.3990625005121" x2="662.7" y2="778.1663841991101" stroke-width="4.7" />
<line x1="677.6" y1="705.8225778907976" x2="677.6" y2="779.6157295057516" stroke-width="4.7" />
<line x1="691.6" y1="706.1963860068703" x2="691.6" y2="779.9963204303821" stroke-width="4.7" />
<line x1="706.5" y1="705.5930373688999" x2="706.5" y2="779.3820239340614" stroke-width="4.7" />
<line x1="720.7" y1="704.0217309604257" x2="720.7" y2="777.7822059173689" stroke-width="4.7" />
<line x1="735.6" y1="701.213604840045" x2="735.6" y2="774.9231258956104" stroke-width="4.7" />
<line x1="748.7" y1="697.5754955964533" x2="748.7" y2="771.2190025730017" stroke-width="4.7" />
<line x1="760.5" y1="693.0841905997084" x2="760.5" y2="766.646202122687" stroke-width="4.7" />
<line x1="773.5" y1="686.160979206241" x2="773.5" y2="759.5973679418381" stroke-width="4.7" />
<line x1="784.5" y1="677.2489909873581" x2="784.5" y2="750.5236702593061" stroke-width="4.7" />
<path d="M585.8,703.0 C585.1,704.5 582.8,708.8 581.8,712.0 C580.8,715.2 580.1,717.7 579.8,722.0 C579.5,726.3 579.8,735.3 579.8,738.0 L579.8,897" stroke-width="4.9" />
<path d="M795.2,703.0 C795.8,704.3 797.9,708.0 798.8,711.0 C799.7,714.0 800.1,716.7 800.4,721.0 C800.7,725.3 800.4,734.3 800.4,737.0 L800.4,897" stroke-width="4.9" />
<path d="M797.6,740.5 L797.3,742.4 L796.8,744.2 L796.1,746.1 L795.3,747.9 L794.3,749.7 L793.2,751.5 L792.0,753.3 L790.6,755.1 L789.1,756.8 L787.4,758.5 L785.6,760.2 L783.6,761.8 L781.6,763.5 L779.4,765.0 L777.0,766.6 L774.6,768.1 L772.0,769.5 L769.3,770.9 L766.5,772.3 L763.6,773.6 L760.6,774.8 L757.5,776.0 L754.3,777.2 L751.0,778.3 L747.6,779.3 L744.2,780.3 L740.6,781.2 L737.0,782.0 L733.3,782.8 L729.6,783.5 L725.8,784.2 L722.0,784.8 L718.1,785.3 L714.2,785.7 L710.2,786.1 L706.2,786.4 L702.2,786.7 L698.2,786.9 L694.1,787.0 L690.1,787.0 L686.1,787.0 L682.0,786.9 L678.0,786.7 L674.0,786.4 L670.0,786.1 L666.0,785.7 L662.1,785.3 L658.2,784.8 L654.4,784.2 L650.6,783.5 L646.9,782.8 L643.2,782.0 L639.6,781.2 L636.0,780.3 L632.6,779.3 L629.2,778.3 L625.9,777.2 L622.7,776.0 L619.6,774.8 L616.6,773.6 L613.7,772.3 L610.9,770.9 L608.2,769.5 L605.6,768.1 L603.2,766.6 L600.8,765.0 L598.6,763.5 L596.6,761.8 L594.6,760.2 L592.8,758.5 L591.1,756.8 L589.6,755.1 L588.2,753.3 L587.0,751.5 L585.9,749.7 L584.9,747.9 L584.1,746.1 L583.4,744.2 L582.9,742.4 L582.6,740.5" stroke-width="5" />
<path d="M582.2,720 L582.6,733 582.6,733.0 L582.7,735.0 L582.9,737.0 L583.3,739.0 L583.9,741.0 L584.7,742.9 L585.6,744.9 L586.6,746.8 L587.9,748.8 L589.2,750.7 L590.8,752.5 L592.5,754.4 L594.3,756.2 L596.3,757.9 L598.4,759.6 L600.7,761.3 L603.1,763.0 L605.7,764.6 L608.3,766.1 L611.1,767.6 L614.1,769.1 L617.1,770.5 L620.2,771.8 L623.5,773.1 L626.9,774.3 L630.3,775.4 L633.9,776.5 L637.5,777.5 L641.2,778.4 L645.0,779.3 L648.9,780.1 L652.8,780.8 L656.8,781.5 L660.8,782.1 L664.9,782.6 L669.0,783.0 L673.2,783.4 L677.4,783.6 L681.6,783.8 L685.8,784.0 L690.0,784.0 L694.2,784.0 L698.4,783.8 L702.6,783.6 L706.8,783.4 L711.0,783.0 L715.1,782.6 L719.2,782.1 L723.2,781.5 L727.2,780.8 L731.1,780.1 L735.0,779.3 L738.8,778.4 L742.5,777.5 L746.1,776.5 L749.7,775.4 L753.1,774.3 L756.5,773.1 L759.8,771.8 L762.9,770.5 L765.9,769.1 L768.9,767.6 L771.7,766.1 L774.3,764.6 L776.9,763.0 L779.3,761.3 L781.6,759.6 L783.7,757.9 L785.7,756.2 L787.5,754.4 L789.2,752.5 L790.8,750.7 L792.1,748.8 L793.4,746.8 L794.4,744.9 L795.3,742.9 L796.1,741.0 L796.7,739.0 L797.1,737.0 L797.3,735.0 L797.4,733.0 L797.6,720" stroke-width="2.2" />
<path d="M800.4,886.5 L800.3,888.5 L800.1,890.5 L799.6,892.4 L799.0,894.4 L798.3,896.3 L797.4,898.3 L796.3,900.2 L795.0,902.1 L793.6,903.9 L792.0,905.8 L790.3,907.6 L788.4,909.4 L786.3,911.1 L784.1,912.8 L781.8,914.5 L779.3,916.1 L776.7,917.7 L774.0,919.2 L771.1,920.7 L768.1,922.1 L765.0,923.5 L761.7,924.8 L758.4,926.1 L754.9,927.3 L751.4,928.4 L747.7,929.5 L744.0,930.5 L740.2,931.4 L736.3,932.3 L732.3,933.1 L728.3,933.8 L724.2,934.4 L720.0,935.0 L715.8,935.5 L711.6,935.9 L707.4,936.3 L703.1,936.6 L698.8,936.7 L694.4,936.9 L690.1,936.9 L685.8,936.9 L681.4,936.7 L677.1,936.6 L672.8,936.3 L668.6,935.9 L664.4,935.5 L660.2,935.0 L656.0,934.4 L651.9,933.8 L647.9,933.1 L643.9,932.3 L640.0,931.4 L636.2,930.5 L632.5,929.5 L628.8,928.4 L625.3,927.3 L621.8,926.1 L618.5,924.8 L615.2,923.5 L612.1,922.1 L609.1,920.7 L606.2,919.2 L603.5,917.7 L600.9,916.1 L598.4,914.5 L596.1,912.8 L593.9,911.1 L591.8,909.4 L589.9,907.6 L588.2,905.8 L586.6,903.9 L585.2,902.1 L583.9,900.2 L582.8,898.3 L581.9,896.3 L581.2,894.4 L580.6,892.4 L580.1,890.5 L579.9,888.5 L579.8,886.5" stroke-width="5" />
<path d="M797.0,905.4 L796.3,907.1 L795.5,908.8 L794.6,910.6 L793.5,912.3 L792.3,913.9 L791.0,915.6 L789.6,917.3 L788.0,918.9 L786.3,920.5 L784.5,922.0 L782.6,923.6 L780.5,925.1 L778.4,926.5 L776.1,928.0 L773.7,929.3 L771.2,930.7 L768.7,932.0 L766.0,933.3 L763.2,934.5 L760.3,935.7 L757.4,936.8 L754.3,937.9 L751.2,938.9 L748.0,939.9 L744.8,940.8 L741.4,941.7 L738.0,942.5 L734.6,943.3 L731.1,944.0 L727.5,944.6 L723.9,945.2 L720.2,945.7 L716.5,946.2 L712.8,946.6 L709.0,946.9 L705.3,947.2 L701.5,947.4 L697.6,947.6 L693.8,947.7 L690.0,947.7 L686.2,947.7 L682.4,947.6 L678.5,947.4 L674.7,947.2 L671.0,946.9 L667.2,946.6 L663.5,946.2 L659.8,945.7 L656.1,945.2 L652.5,944.6 L648.9,944.0 L645.4,943.3 L642.0,942.5 L638.6,941.7 L635.2,940.8 L632.0,939.9 L628.8,938.9 L625.7,937.9 L622.6,936.8 L619.7,935.7 L616.8,934.5 L614.0,933.3 L611.3,932.0 L608.8,930.7 L606.3,929.3 L603.9,928.0 L601.6,926.5 L599.5,925.1 L597.4,923.6 L595.5,922.0 L593.7,920.5 L592.0,918.9 L590.4,917.3 L589.0,915.6 L587.7,913.9 L586.5,912.3 L585.4,910.6 L584.5,908.8 L583.7,907.1 L583.0,905.4" stroke-width="5" />
<path d="M577.6,895.0 C576.9,896.3 574.4,900.2 573.5,903.0 C572.6,905.8 572.2,908.3 572.0,912.0 C571.8,915.7 572.0,922.8 572.0,925.0 L572,1060" stroke-width="5" />
<path d="M802.8,895.0 C803.5,896.3 806.0,900.2 807.0,903.0 C808.0,905.8 808.2,908.3 808.5,912.0 C808.8,915.7 808.5,922.8 808.5,925.0 L808.5,1060" stroke-width="5" />
<line x1="579.9" y1="895" x2="579.9" y2="925" stroke-width="5" />
<line x1="800.4" y1="895" x2="800.4" y2="925" stroke-width="5" />
<path d="M803.0,921.0 L802.9,923.0 L802.7,925.0 L802.2,926.9 L801.6,928.9 L800.8,930.8 L799.9,932.8 L798.8,934.7 L797.5,936.6 L796.0,938.4 L794.4,940.3 L792.6,942.1 L790.7,943.9 L788.6,945.6 L786.4,947.3 L784.0,949.0 L781.5,950.6 L778.8,952.2 L776.0,953.7 L773.0,955.2 L770.0,956.6 L766.8,958.0 L763.5,959.3 L760.0,960.6 L756.5,961.8 L752.9,962.9 L749.1,964.0 L745.3,965.0 L741.4,965.9 L737.4,966.8 L733.4,967.6 L729.2,968.3 L725.1,968.9 L720.8,969.5 L716.5,970.0 L712.2,970.4 L707.8,970.8 L703.5,971.1 L699.1,971.2 L694.6,971.4 L690.2,971.4 L685.8,971.4 L681.3,971.2 L676.9,971.1 L672.6,970.8 L668.2,970.4 L663.9,970.0 L659.6,969.5 L655.3,968.9 L651.2,968.3 L647.0,967.6 L643.0,966.8 L639.0,965.9 L635.1,965.0 L631.3,964.0 L627.5,962.9 L623.9,961.8 L620.4,960.6 L616.9,959.3 L613.6,958.0 L610.4,956.6 L607.4,955.2 L604.4,953.7 L601.6,952.2 L598.9,950.6 L596.4,949.0 L594.0,947.3 L591.8,945.6 L589.7,943.9 L587.8,942.1 L586.0,940.3 L584.4,938.4 L582.9,936.6 L581.6,934.7 L580.5,932.8 L579.6,930.8 L578.8,928.9 L578.2,926.9 L577.7,925.0 L577.5,923.0 L577.4,921.0" stroke-width="5" />
<path d="M803.7,934.0 L803.0,935.8 L802.3,937.6 L801.3,939.3 L800.2,941.1 L799.0,942.8 L797.7,944.5 L796.2,946.2 L794.6,947.8 L792.8,949.4 L790.9,951.0 L788.9,952.6 L786.7,954.2 L784.5,955.7 L782.1,957.1 L779.6,958.5 L777.0,959.9 L774.2,961.3 L771.4,962.6 L768.4,963.8 L765.4,965.0 L762.2,966.2 L759.0,967.3 L755.7,968.4 L752.3,969.4 L748.8,970.3 L745.2,971.2 L741.6,972.0 L737.9,972.8 L734.1,973.5 L730.3,974.2 L726.5,974.8 L722.6,975.3 L718.6,975.8 L714.6,976.2 L710.6,976.6 L706.5,976.9 L702.5,977.1 L698.4,977.3 L694.3,977.4 L690.2,977.4 L686.1,977.4 L682.0,977.3 L677.9,977.1 L673.9,976.9 L669.8,976.6 L665.8,976.2 L661.8,975.8 L657.8,975.3 L653.9,974.8 L650.1,974.2 L646.3,973.5 L642.5,972.8 L638.8,972.0 L635.2,971.2 L631.6,970.3 L628.1,969.4 L624.7,968.4 L621.4,967.3 L618.2,966.2 L615.0,965.0 L612.0,963.8 L609.0,962.6 L606.2,961.3 L603.4,959.9 L600.8,958.5 L598.3,957.1 L595.9,955.7 L593.7,954.2 L591.5,952.6 L589.5,951.0 L587.6,949.4 L585.8,947.8 L584.2,946.2 L582.7,944.5 L581.4,942.8 L580.2,941.1 L579.1,939.3 L578.1,937.6 L577.4,935.8 L576.7,934.0" stroke-width="2" />
<path d="M802.8,940.1 L802.2,941.6 L801.6,942.9 L800.8,944.3 L799.9,945.7 L798.9,947.0 L797.9,948.4 L796.7,949.7 L795.4,951.1 L794.0,952.4 L792.5,953.7 L790.9,954.9 L789.2,956.2 L787.4,957.4 L785.5,958.7 L783.5,959.9 L781.4,961.0 L779.2,962.2 L776.9,963.3 L774.6,964.4 L772.1,965.4 L769.6,966.5 L767.0,967.5 L764.3,968.4 L761.6,969.3 L758.7,970.2 L755.8,971.0 L752.9,971.8 L749.8,972.6 L746.7,973.3 L743.6,973.9 L740.4,974.5 L737.2,975.1 L733.9,975.7 L730.5,976.2 L727.1,976.6 L723.7,977.0 L720.3,977.4 L716.8,977.7 L713.3,977.9 L709.8,978.2 L706.3,978.3 L702.7,978.4 L699.1,978.5 L695.6,978.5 L692.0,978.5 L688.4,978.5 L684.8,978.5 L681.3,978.5 L677.7,978.4 L674.1,978.3 L670.6,978.2 L667.1,977.9 L663.6,977.7 L660.1,977.4 L656.7,977.0 L653.3,976.6 L649.9,976.2 L646.5,975.7 L643.2,975.1 L640.0,974.5 L636.8,973.9 L633.7,973.3 L630.6,972.6 L627.5,971.8 L624.6,971.0 L621.7,970.2 L618.8,969.3 L616.1,968.4 L613.4,967.5 L610.8,966.5 L608.3,965.4 L605.8,964.4 L603.5,963.3 L601.2,962.2 L599.0,961.0 L596.9,959.9 L594.9,958.7 L593.0,957.4 L591.2,956.2 L589.5,954.9 L587.9,953.7 L586.4,952.4 L585.0,951.1 L583.7,949.7 L582.5,948.4 L581.5,947.0 L580.5,945.7 L579.6,944.3 L578.8,942.9 L578.2,941.6 L577.6,940.1 L573.8,941.5 L574.4,943.1 L575.1,944.8 L575.9,946.4 L576.8,948.0 L577.9,949.6 L579.0,951.2 L580.3,952.8 L581.7,954.3 L583.1,955.8 L584.7,957.3 L586.4,958.8 L588.2,960.2 L590.1,961.7 L592.1,963.0 L594.2,964.4 L596.4,965.7 L598.6,967.0 L601.0,968.3 L603.4,969.5 L606.0,970.7 L608.6,971.8 L611.3,973.0 L614.0,974.0 L616.9,975.1 L619.8,976.1 L622.7,977.1 L625.8,978.1 L628.9,979.0 L632.1,979.8 L635.3,980.7 L638.6,981.4 L641.9,982.2 L645.3,982.9 L648.7,983.5 L652.2,984.1 L655.7,984.7 L659.2,985.2 L662.8,985.6 L666.4,986.0 L670.0,986.4 L673.6,986.7 L677.3,987.0 L681.0,987.2 L684.7,987.3 L688.4,987.5 L692.0,987.5 L695.7,987.3 L699.4,987.2 L703.1,987.0 L706.8,986.7 L710.4,986.4 L714.0,986.0 L717.6,985.6 L721.2,985.2 L724.7,984.7 L728.2,984.1 L731.7,983.5 L735.1,982.9 L738.5,982.2 L741.8,981.4 L745.1,980.7 L748.3,979.8 L751.5,979.0 L754.6,978.1 L757.7,977.1 L760.6,976.1 L763.5,975.1 L766.4,974.0 L769.1,973.0 L771.8,971.8 L774.4,970.7 L777.0,969.5 L779.4,968.3 L781.8,967.0 L784.0,965.7 L786.2,964.4 L788.3,963.0 L790.3,961.7 L792.2,960.2 L794.0,958.8 L795.7,957.3 L797.3,955.8 L798.7,954.3 L800.1,952.8 L801.4,951.2 L802.5,949.6 L803.6,948.0 L804.5,946.4 L805.3,944.8 L806.0,943.1 L806.6,941.5 Z" fill="#000" stroke="none"/>
<path d="M572.3,1045.0 C572.3,1047.2 572.5,1054.2 572.5,1058.0 C572.5,1061.8 572.1,1064.0 572.5,1067.6 C572.8,1071.3 573.3,1076.3 574.7,1080.1 C576.0,1083.8 577.5,1086.6 580.5,1090.0 C583.4,1093.5 585.5,1096.6 592.2,1100.8 C598.9,1105.0 611.2,1111.8 620.5,1115.3 C629.9,1118.8 639.0,1120.1 648.2,1121.8 C657.4,1123.5 668.4,1124.9 675.8,1125.7 C683.2,1126.5 688.0,1126.5 692.4,1126.5 C696.8,1126.5 698.2,1126.2 702.4,1125.7 C706.6,1125.2 710.5,1125.2 717.6,1123.6 C724.8,1122.0 736.1,1119.3 745.3,1116.3 C754.5,1113.2 764.8,1109.4 772.9,1105.2 C781.0,1101.1 788.3,1096.1 793.6,1091.4 C799.0,1086.8 802.5,1082.2 805.0,1077.3 C807.4,1072.4 807.7,1066.3 808.3,1062.1 C808.9,1057.9 808.6,1054.9 808.7,1052.0 C808.8,1049.1 808.7,1046.2 808.7,1045.0" stroke-width="5" />
<path d="M576.3,1085.6 C577.5,1088.8 578.2,1099.2 583.2,1104.9 C588.3,1110.7 598.2,1116.0 606.7,1120.1 C615.2,1124.3 625.1,1127.4 634.4,1129.8 C643.6,1132.2 651.1,1133.5 662.0,1134.7 C672.9,1135.8 690.7,1137.0 700.0,1136.7 C709.3,1136.5 710.1,1135.1 717.6,1133.3 C725.2,1131.4 736.1,1128.8 745.3,1125.7 C754.5,1122.6 764.8,1118.8 772.9,1114.6 C781.0,1110.5 788.3,1105.4 793.6,1100.8 C798.9,1096.2 802.0,1091.4 804.7,1087.0 C807.4,1082.6 809.1,1076.6 809.9,1074.5" stroke-width="4.6" stroke-linecap="round"/>
<path d="M571.0,1040.0 C570.9,1041.7 570.8,1046.8 570.6,1050.0 C570.4,1053.2 570.4,1055.3 569.7,1059.3 C569.0,1063.4 566.6,1068.6 566.4,1074.5 C566.1,1080.5 566.2,1089.1 568.3,1095.3 C570.4,1101.5 572.7,1106.1 579.1,1111.9 C585.5,1117.6 597.5,1125.2 606.7,1129.8 C615.9,1134.4 625.1,1137.1 634.4,1139.5 C643.6,1141.9 651.1,1143.2 662.0,1144.3 C672.9,1145.4 688.4,1146.8 700.0,1146.1 C711.6,1145.4 721.6,1142.4 731.5,1140.2 C741.3,1138.0 749.9,1136.1 759.1,1132.9 C768.3,1129.6 778.7,1125.5 786.7,1120.4 C794.8,1115.4 803.0,1109.0 807.5,1102.5 C811.9,1096.0 812.3,1087.3 813.4,1081.5 C814.5,1075.7 814.4,1071.8 813.8,1067.6 C813.2,1063.5 810.4,1059.5 809.7,1056.6 C808.9,1053.6 809.6,1052.8 809.5,1050.0 C809.4,1047.2 809.1,1041.7 809.0,1040.0" stroke-width="6.5" />
<path d="M674.7,1146.7 L673.1,1168.5 L684.8,1178.5 L698.3,1171.5" stroke-width="4.6" stroke-linejoin="round"/>
<path d="M685.2,1150.5 L685.5,1178.2" stroke-width="4.6" stroke-linejoin="round"/>
<path d="M698.3,1147.8 L698.0,1171.5" stroke-width="4.4" stroke-linejoin="round"/>
<path d="M567.7,1009.5 L566.7,1010.1 L565.3,1010.9 L563.6,1011.8 L561.6,1012.8 L559.6,1014.0 L557.5,1015.2 L555.4,1016.6 L553.5,1017.9 L551.7,1019.4 L549.8,1020.8 L548.0,1022.4 L546.2,1024.0 L544.4,1025.7 L542.6,1027.4 L540.9,1029.3 L539.1,1031.2 L537.4,1033.2 L535.6,1035.4 L533.9,1037.6 L532.2,1039.9 L530.5,1042.2 L528.9,1044.5 L527.4,1046.9 L526.0,1049.2 L524.8,1051.6 L523.7,1054.1 L522.6,1056.6 L521.7,1059.0 L520.9,1061.4 L520.1,1063.5 L519.5,1065.5 L518.9,1067.2 L518.5,1068.3 L518.3,1069.1 L518.1,1069.7 L518.0,1070.4 L518.0,1070.9 L518.0,1071.6 L517.9,1072.6 L517.8,1074.3 L517.6,1076.7 L517.2,1079.8 L516.8,1083.3 L516.4,1087.1 L516.1,1091.0 L515.8,1094.9 L515.7,1098.8 L515.8,1102.3 L516.0,1105.6 L516.4,1108.7 L516.9,1111.8 L517.5,1114.9 L518.3,1117.9 L519.2,1120.8 L520.2,1123.8 L521.4,1126.7 L522.6,1129.6 L523.9,1132.5 L525.4,1135.5 L527.0,1138.4 L528.8,1141.3 L530.8,1144.2 L533.1,1147.0 L535.6,1149.8 L538.4,1152.4 L541.5,1155.0 L544.7,1157.6 L548.1,1160.1 L551.7,1162.5 L555.6,1164.9 L559.6,1167.3 L563.9,1169.7 L568.5,1172.1 L573.4,1174.6 L578.6,1177.0 L583.9,1179.5 L589.4,1181.9 L594.9,1184.1 L600.4,1186.3 L605.7,1188.2 L610.8,1189.9 L615.9,1191.5 L620.9,1193.0 L626.0,1194.3 L631.1,1195.5 L636.4,1196.6 L641.9,1197.6 L647.7,1198.5 L653.9,1199.4 L660.5,1200.1 L667.5,1200.7 L674.5,1201.3 L681.4,1201.7 L688.2,1201.9 L694.5,1201.9 L700.2,1201.7 L705.3,1201.2 L709.7,1200.6 L713.7,1199.7 L717.4,1198.8 L720.9,1197.7 L724.5,1196.6 L728.2,1195.4 L732.4,1194.3 L737.0,1193.1 L742.0,1191.9 L747.1,1190.6 L752.4,1189.2 L757.8,1187.8 L763.3,1186.2 L768.7,1184.6 L774.0,1182.7 L779.3,1180.8 L784.7,1178.8 L790.2,1176.6 L795.7,1174.4 L801.1,1172.0 L806.3,1169.5 L811.3,1166.9 L815.9,1164.1 L820.3,1161.2 L824.4,1158.1 L828.2,1154.9 L831.9,1151.5 L835.3,1148.2 L838.4,1144.8 L841.3,1141.5 L844.0,1138.3 L846.4,1135.1 L848.5,1131.9 L850.3,1128.8 L851.8,1125.6 L853.2,1122.6 L854.5,1119.7 L855.6,1116.9 L856.7,1114.2 L857.8,1111.6 L858.8,1109.1 L859.7,1106.6 L860.4,1104.2 L861.1,1101.9 L861.7,1099.8 L862.2,1097.8 L862.7,1095.8 L863.1,1093.9 L863.3,1092.1 L863.5,1090.4 L863.6,1088.8 L863.7,1087.3 L863.8,1086.1 L863.8,1085.1 L863.8,1084.4 L858.8,1084.1 L858.8,1084.9 L858.8,1086.0 L858.7,1087.2 L858.7,1088.5 L858.6,1089.9 L858.4,1091.4 L858.1,1093.0 L857.8,1094.7 L857.4,1096.5 L856.9,1098.5 L856.3,1100.6 L855.7,1102.7 L854.9,1105.0 L854.1,1107.3 L853.2,1109.7 L852.1,1112.3 L851.0,1114.9 L849.8,1117.7 L848.6,1120.6 L847.3,1123.5 L845.9,1126.4 L844.2,1129.3 L842.3,1132.2 L840.0,1135.1 L837.4,1138.1 L834.5,1141.2 L831.4,1144.3 L828.1,1147.5 L824.6,1150.6 L820.8,1153.6 L816.9,1156.4 L812.8,1159.1 L808.4,1161.6 L803.6,1164.0 L798.5,1166.3 L793.3,1168.5 L787.9,1170.6 L782.5,1172.7 L777.1,1174.6 L771.8,1176.4 L766.6,1178.0 L761.3,1179.6 L756.0,1181.0 L750.7,1182.3 L745.4,1183.6 L740.3,1184.7 L735.3,1185.9 L730.5,1187.0 L726.2,1188.1 L722.3,1189.2 L718.7,1190.2 L715.3,1191.1 L712.0,1191.9 L708.4,1192.6 L704.4,1193.1 L699.8,1193.4 L694.4,1193.5 L688.3,1193.4 L681.8,1193.3 L674.9,1193.1 L668.0,1192.7 L661.2,1192.2 L654.7,1191.6 L648.7,1191.0 L643.1,1190.2 L637.7,1189.4 L632.6,1188.5 L627.6,1187.4 L622.7,1186.3 L617.8,1185.0 L612.8,1183.6 L607.8,1182.0 L602.5,1180.2 L597.2,1178.3 L591.7,1176.2 L586.3,1174.0 L581.0,1171.6 L576.0,1169.2 L571.1,1166.9 L566.7,1164.5 L562.5,1162.3 L558.6,1160.0 L554.9,1157.7 L551.4,1155.4 L548.1,1153.0 L545.0,1150.6 L542.2,1148.2 L539.6,1145.8 L537.3,1143.3 L535.2,1140.8 L533.4,1138.2 L531.7,1135.6 L530.2,1132.9 L528.8,1130.2 L527.5,1127.4 L526.3,1124.6 L525.2,1121.9 L524.2,1119.2 L523.3,1116.4 L522.6,1113.7 L522.0,1110.9 L521.5,1108.0 L521.1,1105.1 L520.8,1102.0 L520.7,1098.8 L520.8,1095.2 L521.1,1091.4 L521.4,1087.6 L521.8,1083.8 L522.3,1080.4 L522.6,1077.3 L522.9,1074.8 L523.1,1073.0 L523.1,1071.8 L523.2,1071.1 L523.2,1070.9 L523.2,1071.0 L523.3,1070.8 L523.5,1070.1 L524.0,1068.8 L524.5,1067.2 L525.2,1065.3 L525.9,1063.1 L526.7,1060.9 L527.6,1058.6 L528.6,1056.3 L529.7,1054.0 L530.8,1051.9 L532.1,1049.8 L533.5,1047.6 L535.0,1045.4 L536.6,1043.2 L538.3,1041.0 L540.0,1038.9 L541.7,1036.9 L543.3,1035.0 L545.0,1033.2 L546.7,1031.5 L548.4,1029.8 L550.1,1028.2 L551.8,1026.7 L553.5,1025.3 L555.2,1023.9 L556.9,1022.6 L558.7,1021.4 L560.5,1020.2 L562.5,1019.1 L564.5,1018.0 L566.3,1017.0 L568.0,1016.1 L569.5,1015.4 L570.6,1014.8 Z" fill="#000" stroke="none"/>
<path d="M519.4,1081.5 C519.6,1082.6 519.9,1086.1 520.5,1088.4 C521.1,1090.7 520.3,1090.4 523.1,1095.3 C526.0,1100.1 530.6,1110.2 537.6,1117.4 C544.7,1124.5 556.1,1132.6 565.3,1138.1 C574.5,1143.6 583.7,1146.9 592.9,1150.5 C602.1,1154.2 611.3,1157.7 620.5,1160.2 C629.8,1162.7 639.5,1164.2 648.2,1165.7 C656.8,1167.2 668.3,1168.6 672.4,1169.2" stroke-width="6.5" />
<path d="M519.7,1100.8 C520.6,1103.6 522.9,1112.8 525.2,1117.4 C527.5,1122.0 532.1,1126.6 533.5,1128.4" stroke-width="3" />
<path d="M700.7,1173.1 L703.0,1172.7 L706.0,1172.3 L709.6,1171.9 L713.7,1171.3 L718.0,1170.7 L722.6,1170.0 L727.3,1169.1 L732.0,1168.2 L736.7,1167.1 L741.7,1166.0 L746.8,1164.8 L752.2,1163.5 L757.6,1162.0 L763.0,1160.5 L768.4,1158.8 L773.7,1157.1 L779.0,1155.2 L784.5,1153.2 L790.0,1151.0 L795.5,1148.8 L800.9,1146.4 L806.1,1144.0 L811.0,1141.5 L815.7,1138.9 L820.0,1136.1 L824.1,1133.1 L828.0,1130.0 L831.7,1126.9 L835.2,1123.8 L838.4,1120.8 L841.3,1117.9 L844.0,1115.2 L846.5,1112.6 L848.6,1110.2 L850.5,1107.8 L852.2,1105.5 L853.7,1103.3 L855.0,1101.1 L856.2,1098.9 L857.4,1096.7 L858.5,1094.3 L859.5,1091.8 L860.3,1089.3 L861.1,1086.9 L861.6,1084.6 L862.0,1082.4 L862.4,1080.4 L862.7,1078.7 L862.9,1077.3 L863.0,1076.1 L863.0,1075.0 L862.9,1073.9 L862.7,1073.0 L862.4,1072.1 L862.1,1071.2 L861.7,1070.0 L861.3,1068.3 L860.8,1066.3 L860.2,1064.2 L859.5,1061.8 L858.7,1059.3 L857.8,1056.8 L856.8,1054.3 L855.7,1051.9 L854.5,1049.6 L853.1,1047.2 L851.7,1044.9 L850.2,1042.6 L848.6,1040.3 L847.0,1038.1 L845.3,1035.9 L843.6,1033.8 L841.9,1031.7 L840.1,1029.7 L838.2,1027.8 L836.3,1025.9 L834.4,1024.0 L832.5,1022.2 L830.6,1020.5 L828.7,1018.8 L826.6,1017.1 L824.4,1015.3 L822.1,1013.6 L819.9,1011.9 L817.8,1010.4 L815.9,1009.0 L814.3,1007.9 L813.2,1007.0 L809.0,1012.6 L810.2,1013.5 L811.8,1014.7 L813.7,1016.0 L815.7,1017.5 L817.9,1019.2 L820.1,1020.8 L822.2,1022.5 L824.1,1024.1 L825.9,1025.7 L827.8,1027.4 L829.6,1029.1 L831.4,1030.9 L833.2,1032.6 L834.9,1034.5 L836.6,1036.3 L838.2,1038.2 L839.8,1040.2 L841.4,1042.3 L842.9,1044.4 L844.4,1046.5 L845.8,1048.7 L847.1,1050.8 L848.3,1052.9 L849.4,1055.0 L850.4,1057.1 L851.2,1059.3 L852.1,1061.6 L852.8,1063.8 L853.4,1066.1 L854.0,1068.2 L854.5,1070.1 L855.0,1071.8 L855.4,1073.3 L855.7,1074.3 L855.9,1074.9 L856.0,1075.2 L856.0,1075.4 L856.0,1075.7 L856.0,1076.4 L855.8,1077.6 L855.5,1079.2 L855.2,1081.1 L854.8,1083.1 L854.3,1085.2 L853.7,1087.4 L853.1,1089.6 L852.4,1091.8 L851.5,1093.9 L850.5,1096.0 L849.5,1098.0 L848.3,1100.1 L847.1,1102.2 L845.7,1104.3 L844.1,1106.5 L842.2,1108.8 L840.0,1111.3 L837.4,1114.0 L834.6,1116.9 L831.5,1120.0 L828.3,1123.0 L824.8,1126.1 L821.1,1129.1 L817.2,1131.9 L813.1,1134.6 L808.7,1137.1 L803.9,1139.5 L798.8,1141.9 L793.5,1144.2 L788.1,1146.4 L782.7,1148.5 L777.3,1150.5 L772.1,1152.3 L766.9,1154.1 L761.6,1155.7 L756.2,1157.2 L750.9,1158.6 L745.6,1159.9 L740.5,1161.1 L735.6,1162.3 L730.9,1163.3 L726.4,1164.2 L721.8,1165.0 L717.3,1165.8 L713.0,1166.4 L709.0,1166.9 L705.4,1167.4 L702.4,1167.8 L700.0,1168.1 Z" fill="#000" stroke="none"/>
<path d="M569.2,1018.5 L557.5,1026.1 L569.2,1030.2" stroke-width="4" stroke-linejoin="round"/>
<path d="M551.7,1031.9 L548.8,1036.3 L569.2,1042.6" stroke-width="4" stroke-linejoin="round"/>
<path d="M541.2,1040.1 L569.4,1046.9" stroke-width="4" stroke-linejoin="round"/>
<path d="M811.1,1016.8 L825.6,1026.8 L811.1,1031.3" stroke-width="4" stroke-linejoin="round"/>
<path d="M811.1,1036.3 L832.9,1029.9 L835.4,1035.3" stroke-width="4" stroke-linejoin="round"/>
<path d="M811.1,1047.9 L843.1,1038.9" stroke-width="4" stroke-linejoin="round"/>
<path d="M810.9,1047.6 L839.2,1040.0" stroke-width="4" stroke-linejoin="round"/>
<path d="M569.2,977.2 C565.1,978.8 551.5,983.4 544.7,986.5 C537.9,989.6 535.0,991.0 528.4,995.9 C521.8,1000.7 512.1,1009.4 505.2,1015.6 C498.2,1021.8 491.6,1027.3 486.5,1033.1 C481.5,1038.9 477.8,1044.7 474.9,1050.5 C472.0,1056.4 469.9,1062.9 469.1,1068.0 C468.3,1073.1 469.5,1076.7 469.9,1081.2 C470.2,1085.6 470.5,1091.5 471.3,1094.9 C472.1,1098.3 473.1,1098.5 474.7,1101.7 C476.3,1105.0 479.8,1112.0 480.9,1114.1" stroke-width="3.2" />
<path d="M569.2,981.9 C565.1,983.5 551.5,988.6 544.7,991.8 C537.9,995.0 534.3,997.1 528.4,1001.2 C522.6,1005.3 516.2,1010.5 509.8,1016.3 C503.5,1022.2 495.4,1029.8 490.3,1036.1 C485.1,1042.5 481.5,1048.4 478.9,1054.5 C476.2,1060.6 474.9,1067.5 474.2,1072.7 C473.5,1077.8 474.6,1083.2 474.7,1085.3" stroke-width="3.2" />
<path d="M569.2,1002.8 C565.1,1004.6 552.7,1009.4 544.7,1013.3 C536.8,1017.2 529.2,1020.5 521.5,1026.1 C513.7,1031.7 504.6,1040.8 498.2,1047.1 C491.8,1053.3 486.9,1057.2 483.1,1063.3 C479.3,1069.5 477.2,1078.2 475.4,1083.9 C473.6,1089.6 472.7,1095.3 472.2,1097.6" stroke-width="4.9" stroke-linecap="round"/>
<path d="M480.9,1114.1 L478.1,1114.8 L477.0,1136.1 L476.3,1163.5 L475.8,1188.2 L488.4,1200.5" stroke-width="6" stroke-linejoin="round"/>
<path d="M461.2,1116.8 L462.3,1174.5" stroke-width="4.6" stroke-linejoin="round"/>
<path d="M476.1,1111.4 L462.3,1115.7 L437.6,1116.3" stroke-width="4" stroke-linejoin="round"/>
<path d="M423.2,1125.4 L437.6,1119.6" stroke-width="3.5" stroke-linejoin="round"/>
<path d="M443.1,1149.8 C444.5,1152.8 448.2,1162.8 451.4,1167.6 C454.6,1172.4 458.2,1174.9 462.3,1178.6 C466.4,1182.3 471.7,1185.9 476.1,1189.6 C480.4,1193.2 486.3,1198.7 488.4,1200.5" stroke-width="5" />
<path d="M480.2,1138.8 C480.9,1140.4 481.5,1144.3 484.3,1148.4 C487.0,1152.5 490.9,1158.0 496.6,1163.5 C502.4,1169.0 513.3,1177.0 518.6,1181.3 C523.9,1185.7 526.6,1188.2 528.2,1189.6" stroke-width="5" />
<path d="M478.8,1171.7 C480.4,1173.6 483.1,1177.9 488.4,1182.7 C493.7,1187.5 506.7,1197.6 510.4,1200.5" stroke-width="5" />
<path d="M811.1,974.9 C814.8,976.4 826.2,980.2 833.6,983.6 C841.0,987.0 848.2,990.7 855.5,995.3 C862.7,999.9 871.2,1005.9 877.3,1011.3 C883.3,1016.6 887.5,1021.0 891.8,1027.3 C896.2,1033.6 900.5,1042.3 903.5,1049.1 C906.4,1055.9 908.1,1063.8 909.3,1068.0 C910.4,1072.2 910.4,1070.3 910.4,1074.3 C910.4,1078.3 910.2,1087.1 909.3,1092.1 C908.4,1097.2 905.6,1102.4 904.9,1104.5" stroke-width="3.4" />
<path d="M811.1,980.7 C814.8,982.3 826.3,986.3 833.6,989.9 C841.0,993.5 848.4,997.8 855.2,1002.3 C861.9,1006.7 868.4,1011.4 873.9,1016.7 C879.5,1021.9 884.2,1027.7 888.3,1034.0 C892.4,1040.2 895.6,1047.2 898.5,1054.0 C901.4,1060.9 904.5,1070.8 905.9,1075.3 C907.3,1079.8 906.8,1080.2 906.9,1081.2" stroke-width="3.2" />
<path d="M811.1,999.6 C814.8,1001.1 826.2,1004.7 833.6,1008.4 C841.0,1012.0 848.2,1016.4 855.5,1021.5 C862.7,1026.5 871.2,1033.1 877.3,1038.9 C883.3,1044.7 887.7,1050.1 891.8,1056.4 C895.9,1062.7 900.3,1074.2 902.0,1076.7 C903.7,1079.3 901.3,1070.6 902.1,1071.6 C903.0,1072.5 906.1,1080.7 906.9,1082.5" stroke-width="5.2" stroke-linecap="round"/>
<path d="M811.1,1006.6 C814.8,1008.1 826.3,1011.7 833.6,1015.3 C841.0,1019.0 849.0,1023.7 855.2,1028.3 C861.4,1032.8 868.3,1040.3 870.9,1042.7" stroke-width="3.4" />
<path d="M904.9,1104.5 L900.1,1106.1 L899.4,1129.2 L896.7,1181.3 L913.8,1186.1" stroke-width="5" stroke-linejoin="round"/>
<path d="M904.9,1108.6 L917.2,1112.0" stroke-width="4.5" stroke-linejoin="round"/>
<path d="M915.9,1111.4 L913.4,1182.7 L924.4,1182.7 L921.4,1111.3 Z" fill="#000" stroke="none"/>
<path d="M921.4,1112.7 L937.8,1112.7 L937.1,1137.4 L924.8,1138.8 L920.3,1142.2" stroke-width="4.5" stroke-linejoin="round"/>
<path d="M904.9,1104.5 L918.6,1107.9 L937.8,1107.2" stroke-width="4.5" stroke-linejoin="round"/>
<path d="M937.8,1106.6 L947.7,1105.9 L946.7,1117.5 L942.2,1121.0 L946.7,1127.8 L946.7,1138.8 L937.8,1138.1 Z" fill="#000" stroke="none"/>
<path d="M924.8,1138.8 L944.7,1136.3" stroke-width="4.5" stroke-linejoin="round"/>
<path d="M926.8,1147.0 L943.3,1151.8 L932.3,1173.1 L921.4,1185.5 L902.1,1201.2" stroke-width="5" stroke-linejoin="round"/>
<path d="M899.4,1129.2 C898.0,1131.7 894.8,1139.5 891.2,1144.3 C887.5,1149.1 882.7,1153.1 877.4,1158.0 C872.2,1162.9 862.6,1171.2 859.6,1173.8" stroke-width="4.6" />
<path d="M897.3,1167.6 C895.2,1169.4 889.9,1174.2 884.3,1178.6 C878.7,1182.9 867.8,1190.5 863.7,1193.7 C859.7,1196.9 860.5,1197.1 859.9,1197.8" stroke-width="4.6" />
<path d="M467.1,1007.5 C463.5,1010.2 452.6,1017.7 445.3,1023.9 C438.1,1030.0 429.9,1038.4 423.6,1044.6 C417.2,1050.7 412.2,1053.3 407.4,1060.6 C402.7,1067.8 397.8,1080.0 395.1,1088.0 C392.3,1096.0 391.5,1101.7 391.0,1108.6 C390.4,1115.5 391.0,1122.8 391.7,1129.2 C392.3,1135.6 392.5,1140.2 395.1,1147.0 C397.7,1153.9 401.3,1161.4 407.4,1170.4 C413.6,1179.3 428.0,1195.5 432.1,1200.5" stroke-width="4.6" />
<path d="M391.7,1142.9 L393.0,1200.5" stroke-width="4.6" stroke-linejoin="round"/>
<path d="M393.7,1149.8 C394.4,1153.2 394.6,1161.9 397.8,1170.4 C401.0,1178.8 410.4,1195.5 412.9,1200.5" stroke-width="4.4" />
<path d="M915.1,1007.6 C918.5,1009.9 928.4,1015.8 935.5,1021.5 C942.5,1027.2 951.2,1035.3 957.3,1041.8 C963.3,1048.4 967.3,1051.9 971.8,1060.7 C976.4,1069.6 981.8,1084.6 984.5,1094.9 C987.2,1105.2 987.7,1113.2 987.9,1122.3 C988.1,1131.5 988.3,1140.6 985.8,1149.8 C983.4,1158.9 980.1,1168.8 973.5,1177.2 C966.9,1185.7 950.6,1196.7 946.1,1200.5" stroke-width="4.6" />
<path d="M987.2,1129.2 C987.4,1134.9 988.9,1151.6 988.6,1163.5 C988.3,1175.4 985.7,1194.4 985.2,1200.5" stroke-width="4.4" />
<path d="M983.1,1152.5 C982.4,1156.6 982.0,1169.2 979.0,1177.2 C976.0,1185.2 967.6,1196.7 965.3,1200.5" stroke-width="4.4" />
<path d="M569.2,962.7 L560.4,957.7 L547.6,961.5 L557.5,973.7 L543.0,980.1 L527.3,970.5 L514.5,974.9 L529.6,986.5 L516.8,994.1 L499.3,985.4 L487.7,993.5 L504.6,1001.1 L493.5,1010.4 L473.7,1008.7 L465.0,1012.7 L484.2,1018.0 L474.9,1028.4 L454.5,1023.2 L448.1,1033.1 L468.5,1036.0 L463.3,1047.1 L440.0,1044.7" stroke-width="4" stroke-linejoin="miter"/>
<path d="M547.6,961.5 L552.3,963.3 L558.1,973.7 L548.8,974.9 Z" fill="#000" stroke="none"/>
<path d="M514.5,974.9 L521.5,974.9 L529.6,986.5 L516.8,994.1 L512.1,988.9 Z" fill="#000" stroke="none"/>
<path d="M519.1,984.2 L522.0,983.1 L521.5,986.5 L519.7,987.7 Z" fill="#fff" stroke="none"/>
<path d="M487.7,993.5 L494.7,994.7 L504.6,1001.1 L493.5,1010.4 L488.9,1009.8 Z" fill="#000" stroke="none"/>
<path d="M492.9,998.2 L498.2,1001.1 L492.4,1005.2 Z" fill="#fff" stroke="none"/>
<path d="M465.0,1012.7 L471.4,1012.1 L484.2,1018.0 L474.9,1028.4 L465.0,1023.8 Z" fill="#000" stroke="none"/>
<path d="M470.0,1016.2 L477.2,1019.4 L473.7,1024.0 L470.0,1024.0 Z" fill="#fff" stroke="none"/>
<path d="M448.1,1033.1 L454.0,1031.9 L468.5,1036.0 L463.3,1047.1 L448.1,1044.1 Z" fill="#000" stroke="none"/>
<path d="M453.0,1036.0 L462.1,1038.9 L460.4,1044.1 L453.0,1044.1 Z" fill="#fff" stroke="none"/>
<path d="M811.1,956.0 L817.6,953.4 L831.5,957.2 L821.3,969.1 L835.8,974.9 L851.1,964.7 L864.2,970.5 L850.4,981.5 L864.2,988.0 L880.9,979.3 L891.8,986.5 L875.8,996.0 L884.5,1004.0 L904.9,996.0 L913.6,1004.0 L896.9,1011.3 L904.9,1020.7 L923.8,1019.3 L930.4,1023.6" stroke-width="4" stroke-linejoin="miter"/>
<path d="M822.7,957.5 L831.5,957.2 L830.7,969.8 L821.3,969.1 Z" fill="#000" stroke="none"/>
<path d="M854.0,971.3 L864.2,970.5 L862.7,983.6 L850.4,981.5 Z" fill="#000" stroke="none"/>
<path d="M855.5,978.1 L858.4,977.1 L857.6,980.0 Z" fill="#fff" stroke="none"/>
<path d="M880.9,986.5 L891.8,986.5 L890.4,998.2 L884.5,1004.0 L875.8,996.0 Z" fill="#000" stroke="none"/>
<path d="M882.4,994.1 L885.3,993.5 L884.5,997.0 Z" fill="#fff" stroke="none"/>
<path d="M904.9,1004.0 L913.6,1004.0 L923.8,1019.3 L904.9,1020.7 L896.9,1011.3 Z" fill="#000" stroke="none"/>
<path d="M903.2,1011.6 L908.1,1009.5 L907.1,1016.4 Z" fill="#fff" stroke="none"/>
<path d="M912.9,1012.7 L918.0,1015.6 L913.6,1016.4 Z" fill="#fff" stroke="none"/>
<path d="M930.4,1023.6 L938.4,1035.3 L942.7,1044.7 L947.1,1057.1 L948.5,1079.9" stroke-width="5.5" stroke-linejoin="round"/>
<path d="M930.4,1023.6 L912.2,1030.2 L917.3,1040.4 L938.4,1035.3" stroke-width="5" stroke-linejoin="round"/>
<path d="M942.7,1044.7 L922.4,1048.4 L924.5,1059.3 L947.1,1057.1" stroke-width="5" stroke-linejoin="round"/>
<path d="M947.8,1066.5 L926.7,1068.0 L926.7,1079.9" stroke-width="5" stroke-linejoin="round"/>
<path d="M926.7,1023.6 L931.1,1025.1 L930.8,1035.3 L927.5,1034.5 Z" fill="#000" stroke="none"/>
<path d="M940.6,1040.0 L943.3,1048.2 L948.1,1057.8 L948.1,1108.6" stroke-width="5.5" stroke-linejoin="round"/>
<path d="M941.9,1044.8 L922.0,1048.5 L924.8,1057.8 L946.1,1057.2" stroke-width="5" stroke-linejoin="round"/>
<path d="M946.1,1064.0 L926.2,1068.1 L926.2,1080.5 L946.1,1084.2" stroke-width="5" stroke-linejoin="round"/>
<path d="M946.1,1084.6 L924.8,1088.7 L921.4,1099.7 L936.7,1104.5 L946.1,1105.9" stroke-width="5" stroke-linejoin="round"/>
<path d="M448.6,1040.0 L441.1,1044.8 L436.9,1053.7 L432.8,1066.8 L431.9,1094.9 L430.8,1115.5 L437.6,1118.9" stroke-width="4.8" stroke-linejoin="round"/>
<path d="M463.7,1046.2 L441.1,1044.8" stroke-width="4.6" stroke-linejoin="round"/>
<path d="M437.6,1053.0 L458.9,1057.2 L455.5,1067.0 L432.8,1066.8" stroke-width="4.6" stroke-linejoin="round"/>
<path d="M432.1,1073.6 L453.8,1076.4 L453.4,1088.0 L432.8,1089.7" stroke-width="4.6" stroke-linejoin="round"/>
<path d="M432.8,1095.8 L455.5,1096.3 L458.2,1107.9 L436.9,1110.7" stroke-width="4.6" stroke-linejoin="round"/>
<path d="M437.6,1118.9 L434.2,1122.3 L436.3,1137.7 L458.2,1141.5" stroke-width="5" stroke-linejoin="round"/>
<path d="M440.4,1123.7 L459.6,1121.0" stroke-width="4.5" stroke-linejoin="round"/>
<path d="M441.1,1149.8 L458.2,1145.7" stroke-width="4.5" stroke-linejoin="round"/>
<path d="M448.6,1153.9 L456.8,1166.2" stroke-width="4" stroke-linejoin="round"/>
<path d="M458.9,1121.0 L456.8,1166.2" stroke-width="4.5" stroke-linejoin="round"/>
<path d="M510.0,1172.7 L520.4,1183.7 L528.0,1174.3 L545.9,1169.2 L606.7,1187.9" stroke-width="4.6" stroke-linejoin="round"/>
<path d="M516.9,1185.1 L529.3,1190.6 L544.5,1182.3 L559.1,1187.9 L550.1,1198.9 L559.7,1201.0" stroke-width="5" stroke-linejoin="round"/>
<path d="M563.9,1201.0 L576.3,1192.0 L591.5,1196.8 L590.1,1201.0" stroke-width="5" stroke-linejoin="round"/>
<path d="M763.2,1198.2 L772.9,1197.2 L774.6,1200.6 L764.6,1202.4 Z" fill="#000" stroke="none"/>
<path d="M792.9,1201.0 L789.8,1192.0 L804.7,1188.5 L819.9,1197.5 L832.3,1193.4 L822.7,1181.6 L836.5,1176.8 L853.1,1185.1 L861.3,1180.9" stroke-width="5" stroke-linejoin="round"/>
<path d="M772.9,1184.4 L836.5,1162.7 L855.8,1169.9 L863.8,1178.2" stroke-width="4" stroke-linejoin="round"/>
<path d="M861.3,1178.2 L861.3,1200.3" stroke-width="5" stroke-linejoin="round"/>
</svg>
</body></html>
